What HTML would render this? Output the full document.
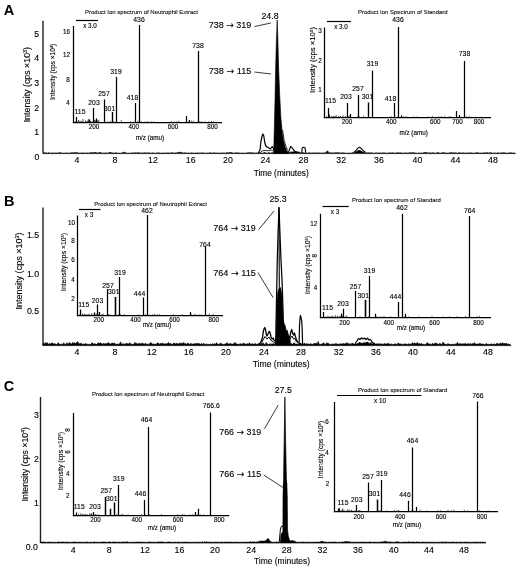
<!DOCTYPE html>
<html><head><meta charset="utf-8"><title>Figure</title>
<style>
html,body{margin:0;padding:0;background:#fff;}
svg{display:block;font-family:"Liberation Sans", Arial, sans-serif;filter:blur(0.35px);}
</style></head><body>
<svg width="520" height="569" viewBox="0 0 520 569">
<rect width="520" height="569" fill="#fff"/>
<text x="8.9" y="15.19" font-size="14.5" text-anchor="middle" fill="#000" font-weight="bold">A</text>
<line x1="43" y1="20.8" x2="43" y2="153.5" stroke="#222" stroke-width="1.4" stroke-linecap="butt"/>
<path d="M43.0,153.17 L44.0,152.76 L45.0,152.87 L46.0,152.85 L47.0,153.11 L48.0,153.11 L49.0,152.54 L50.0,153.14 L51.0,153.18 L52.0,152.94 L53.0,152.81 L54.0,153.19 L55.0,152.99 L56.0,152.86 L57.0,153.07 L58.0,153.05 L59.0,152.73 L60.0,152.67 L61.0,152.63 L62.0,153.12 L63.0,153.14 L64.0,153.09 L65.0,153.18 L66.0,152.73 L67.0,153.17 L68.0,153.12 L69.0,152.94 L70.0,152.90 L71.0,153.06 L72.0,152.49 L73.0,153.02 L74.0,152.43 L75.0,152.70 L76.0,152.81 L77.0,152.43 L78.0,152.92 L79.0,153.09 L80.0,153.09 L81.0,153.04 L82.0,153.02 L83.0,152.83 L84.0,153.12 L85.0,152.99 L86.0,152.99 L87.0,152.85 L88.0,153.18 L89.0,152.92 L90.0,152.83 L91.0,152.55 L92.0,152.82 L93.0,152.87 L94.0,152.47 L95.0,152.53 L96.0,152.36 L97.0,153.10 L98.0,153.02 L99.0,152.62 L100.0,152.51 L101.0,152.82 L102.0,152.94 L103.0,153.15 L104.0,152.97 L105.0,152.98 L106.0,152.80 L107.0,153.17 L108.0,153.08 L109.0,152.56 L110.0,152.36 L111.0,152.67 L112.0,152.87 L113.0,153.03 L114.0,153.09 L115.0,153.04 L116.0,152.62 L117.0,153.13 L118.0,153.12 L119.0,153.12 L120.0,153.13 L121.0,153.14 L122.0,152.89 L123.0,152.48 L124.0,152.53 L125.0,151.94 L126.0,153.16 L127.0,153.15 L128.0,153.07 L129.0,153.13 L130.0,153.15 L131.0,153.08 L132.0,152.86 L133.0,153.04 L134.0,153.07 L135.0,152.52 L136.0,153.01 L137.0,152.86 L138.0,152.39 L139.0,152.93 L140.0,152.99 L141.0,152.79 L142.0,153.10 L143.0,152.91 L144.0,152.83 L145.0,152.75 L146.0,153.02 L147.0,152.81 L148.0,153.05 L149.0,152.69 L150.0,152.97 L151.0,153.18 L152.0,152.90 L153.0,152.78 L154.0,153.14 L155.0,153.15 L156.0,153.18 L157.0,152.80 L158.0,152.97 L159.0,152.72 L160.0,153.14 L161.0,153.12 L162.0,153.11 L163.0,152.93 L164.0,152.92 L165.0,153.06 L166.0,152.91 L167.0,153.05 L168.0,152.65 L169.0,153.08 L170.0,153.18 L171.0,152.80 L172.0,152.40 L173.0,153.19 L174.0,152.80 L175.0,152.91 L176.0,152.93 L177.0,152.78 L178.0,152.59 L179.0,152.34 L180.0,152.25 L181.0,152.56 L182.0,152.49 L183.0,152.97 L184.0,153.02 L185.0,152.65 L186.0,152.95 L187.0,153.11 L188.0,152.97 L189.0,153.11 L190.0,152.96 L191.0,153.06 L192.0,152.85 L193.0,153.15 L194.0,153.05 L195.0,153.06 L196.0,152.92 L197.0,153.01 L198.0,152.87 L199.0,153.07 L200.0,153.03 L201.0,152.94 L202.0,152.77 L203.0,152.91 L204.0,152.95 L205.0,153.17 L206.0,153.02 L207.0,152.98 L208.0,153.16 L209.0,152.97 L210.0,152.57 L211.0,153.09 L212.0,152.94 L213.0,153.02 L214.0,152.73 L215.0,153.09 L216.0,152.90 L217.0,153.00 L218.0,152.99 L219.0,153.12 L220.0,152.93 L221.0,152.99 L222.0,152.90 L223.0,152.89 L224.0,153.03 L225.0,153.02 L226.0,153.10 L227.0,152.36 L228.0,153.18 L229.0,152.45 L230.0,152.49 L231.0,152.41 L232.0,152.86 L233.0,152.98 L234.0,153.09 L235.0,153.18 L236.0,152.53 L237.0,152.98 L238.0,152.84 L239.0,153.12 L240.0,152.89 L241.0,153.18 L242.0,153.07 L243.0,152.96 L244.0,153.05 L245.0,153.16 L246.0,153.10 L247.0,152.76 L248.0,152.89 L249.0,152.54 L250.0,152.86 L251.0,152.83 L252.0,152.93 L253.0,152.62 L254.0,153.15 L255.0,153.06 L256.0,152.94 L257.0,152.98 L258.0,152.84 L259.0,152.49 L260.0,152.77 L261.0,152.96 L262.0,152.99 L263.0,153.19 L264.0,152.50 L265.0,152.60 L266.0,153.11 L267.0,153.06 L268.0,153.01 L269.0,152.57 L270.0,153.06 L271.0,152.91 L272.0,152.65 L273.0,152.64 L274.0,152.90 L275.0,153.18 L276.0,153.16 L277.0,152.72 L278.0,152.70 L279.0,152.93 L280.0,153.11 L281.0,153.14 L282.0,152.76 L283.0,152.83 L284.0,152.97 L285.0,153.12 L286.0,153.05 L287.0,152.83 L288.0,152.83 L289.0,152.67 L290.0,152.51 L291.0,151.75 L292.0,152.16 L293.0,151.77 L294.0,151.82 L295.0,151.88 L296.0,151.75 L297.0,151.83 L298.0,151.86 L299.0,152.15 L300.0,152.43 L301.0,152.65 L302.0,152.60 L303.0,152.68 L304.0,152.76 L305.0,153.05 L306.0,152.82 L307.0,152.99 L308.0,153.08 L309.0,152.86 L310.0,152.86 L311.0,153.13 L312.0,152.86 L313.0,153.05 L314.0,152.74 L315.0,152.89 L316.0,153.06 L317.0,152.65 L318.0,153.19 L319.0,152.73 L320.0,152.94 L321.0,152.95 L322.0,153.14 L323.0,152.67 L324.0,153.08 L325.0,152.86 L326.0,152.83 L327.0,151.00 L328.0,151.32 L329.0,152.68 L330.0,153.06 L331.0,152.70 L332.0,152.83 L333.0,153.17 L334.0,152.81 L335.0,152.74 L336.0,152.75 L337.0,152.82 L338.0,152.58 L339.0,153.06 L340.0,152.70 L341.0,153.15 L342.0,152.75 L343.0,152.83 L344.0,152.92 L345.0,153.01 L346.0,153.19 L347.0,153.18 L348.0,153.10 L349.0,153.07 L350.0,153.11 L351.0,153.03 L352.0,153.02 L353.0,152.46 L354.0,152.89 L355.0,152.23 L356.0,151.81 L357.0,151.39 L358.0,150.53 L359.0,150.31 L360.0,150.61 L361.0,151.09 L362.0,151.61 L363.0,152.23 L364.0,152.30 L365.0,152.95 L366.0,152.96 L367.0,153.17 L368.0,152.38 L369.0,152.91 L370.0,153.08 L371.0,152.60 L372.0,152.94 L373.0,153.19 L374.0,152.98 L375.0,153.20 L376.0,152.72 L377.0,153.19 L378.0,152.85 L379.0,152.96 L380.0,152.94 L381.0,152.99 L382.0,152.91 L383.0,152.84 L384.0,152.99 L385.0,152.84 L386.0,153.14 L387.0,153.20 L388.0,152.99 L389.0,152.99 L390.0,152.65 L391.0,153.01 L392.0,152.83 L393.0,152.70 L394.0,153.15 L395.0,153.04 L396.0,153.08 L397.0,152.72 L398.0,152.87 L399.0,152.83 L400.0,152.99 L401.0,152.68 L402.0,153.00 L403.0,153.09 L404.0,152.95 L405.0,153.05 L406.0,152.76 L407.0,153.10 L408.0,152.97 L409.0,152.89 L410.0,152.39 L411.0,153.04 L412.0,152.68 L413.0,152.61 L414.0,152.84 L415.0,152.96 L416.0,153.06 L417.0,153.18 L418.0,153.13 L419.0,152.86 L420.0,153.16 L421.0,153.04 L422.0,152.91 L423.0,152.94 L424.0,152.66 L425.0,152.53 L426.0,152.35 L427.0,152.73 L428.0,153.14 L429.0,152.55 L430.0,153.07 L431.0,153.01 L432.0,152.80 L433.0,152.64 L434.0,153.13 L435.0,152.98 L436.0,152.92 L437.0,153.11 L438.0,152.32 L439.0,152.95 L440.0,153.15 L441.0,153.15 L442.0,152.65 L443.0,152.80 L444.0,152.41 L445.0,153.04 L446.0,152.99 L447.0,153.10 L448.0,152.95 L449.0,152.99 L450.0,152.70 L451.0,152.73 L452.0,152.62 L453.0,153.18 L454.0,152.50 L455.0,153.06 L456.0,152.86 L457.0,153.18 L458.0,153.05 L459.0,152.65 L460.0,152.84 L461.0,153.11 L462.0,152.88 L463.0,152.74 L464.0,152.95 L465.0,152.88 L466.0,153.19 L467.0,152.83 L468.0,153.04 L469.0,153.08 L470.0,152.75 L471.0,152.87 L472.0,153.10 L473.0,153.03 L474.0,153.15 L475.0,153.12 L476.0,152.69 L477.0,152.64 L478.0,152.73 L479.0,153.07 L480.0,153.11 L481.0,152.88 L482.0,153.08 L483.0,153.12 L484.0,152.62 L485.0,153.05 L486.0,152.70 L487.0,152.84 L488.0,152.68 L489.0,153.14 L490.0,152.62 L491.0,152.69 L492.0,153.07 L493.0,153.03 L494.0,153.16 L495.0,152.87 L496.0,153.19 L497.0,153.09 L498.0,152.68 L499.0,153.00 L500.0,153.11 L501.0,152.90 L502.0,152.81 L503.0,152.88 L504.0,152.54 L505.0,153.10 L506.0,153.05 L507.0,153.02 L508.0,153.12 L509.0,152.93 L510.0,152.71 L511.0,152.84 L512.0,152.94 L513.0,152.97 L514.0,152.89 L515.0,153.12 L515.5,153.6 L43,153.6 Z" fill="#000" stroke="#000" stroke-width="0.6" stroke-linejoin="round"/>
<path d="M288.5,152.5 L289.6,149 L290.8,146.3 L292.2,147.8 L293.6,150 L295.2,151.6 L297,152.5" fill="none" stroke="#000" stroke-width="1.1" stroke-linejoin="round"/>
<path d="M301.8,152.5 L302.2,148 L303.6,147.3 L305.2,148 L305.6,152.5" fill="none" stroke="#000" stroke-width="1.1" stroke-linejoin="round"/>
<path d="M353.5,152.6 L356,150.5 L358,148 L359.5,147.3 L361,148.2 L363,150.5 L366,152.6" fill="none" stroke="#000" stroke-width="1.1" stroke-linejoin="round"/>
<text x="36.7" y="36.65" font-size="8.8" text-anchor="middle" fill="#000" stroke="#000" stroke-width="0.12">5</text>
<text x="36.7" y="61.15" font-size="8.8" text-anchor="middle" fill="#000" stroke="#000" stroke-width="0.12">4</text>
<text x="36.7" y="86.15" font-size="8.8" text-anchor="middle" fill="#000" stroke="#000" stroke-width="0.12">3</text>
<text x="36.7" y="110.65" font-size="8.8" text-anchor="middle" fill="#000" stroke="#000" stroke-width="0.12">2</text>
<text x="36.7" y="135.15" font-size="8.8" text-anchor="middle" fill="#000" stroke="#000" stroke-width="0.12">1</text>
<text x="37" y="160.15" font-size="8.8" text-anchor="middle" fill="#000" stroke="#000" stroke-width="0.12">0</text>
<text x="77" y="163.15" font-size="8.8" text-anchor="middle" fill="#000" stroke="#000" stroke-width="0.12">4</text>
<text x="115" y="163.15" font-size="8.8" text-anchor="middle" fill="#000" stroke="#000" stroke-width="0.12">8</text>
<text x="153" y="163.15" font-size="8.8" text-anchor="middle" fill="#000" stroke="#000" stroke-width="0.12">12</text>
<text x="190.75" y="163.15" font-size="8.8" text-anchor="middle" fill="#000" stroke="#000" stroke-width="0.12">16</text>
<text x="228" y="163.15" font-size="8.8" text-anchor="middle" fill="#000" stroke="#000" stroke-width="0.12">20</text>
<text x="265.5" y="163.15" font-size="8.8" text-anchor="middle" fill="#000" stroke="#000" stroke-width="0.12">24</text>
<text x="303.5" y="163.15" font-size="8.8" text-anchor="middle" fill="#000" stroke="#000" stroke-width="0.12">28</text>
<text x="341.25" y="163.15" font-size="8.8" text-anchor="middle" fill="#000" stroke="#000" stroke-width="0.12">32</text>
<text x="379" y="163.15" font-size="8.8" text-anchor="middle" fill="#000" stroke="#000" stroke-width="0.12">36</text>
<text x="417.5" y="163.15" font-size="8.8" text-anchor="middle" fill="#000" stroke="#000" stroke-width="0.12">40</text>
<text x="455.4" y="163.15" font-size="8.8" text-anchor="middle" fill="#000" stroke="#000" stroke-width="0.12">44</text>
<text x="493" y="163.15" font-size="8.8" text-anchor="middle" fill="#000" stroke="#000" stroke-width="0.12">48</text>
<text x="281.2" y="175.65" font-size="8.8" text-anchor="middle" fill="#000" textLength="55" lengthAdjust="spacingAndGlyphs" stroke="#000" stroke-width="0.12">Time (minutes)</text>
<text transform="translate(27.2,84.7) rotate(-90)" x="0" y="3.15" font-size="8.8" text-anchor="middle" fill="#000" textLength="75.3" lengthAdjust="spacingAndGlyphs" stroke="#000" stroke-width="0.12">Intensity (cps ×10<tspan font-size="60%" dy="-3">3</tspan><tspan dy="3">)</tspan></text>
<text x="270" y="18.65" font-size="8.8" text-anchor="middle" fill="#000" stroke="#000" stroke-width="0.12">24.8</text>
<text x="230" y="28.15" font-size="8.8" text-anchor="middle" fill="#000" textLength="42.5" lengthAdjust="spacingAndGlyphs" stroke="#000" stroke-width="0.12">738 <tspan font-family="DejaVu Sans" font-size="9">→</tspan> 319</text>
<text x="230" y="73.65" font-size="8.8" text-anchor="middle" fill="#000" textLength="42.5" lengthAdjust="spacingAndGlyphs" stroke="#000" stroke-width="0.12">738 <tspan font-family="DejaVu Sans" font-size="9">→</tspan> 115</text>
<line x1="254.5" y1="26.5" x2="271" y2="23" stroke="#222" stroke-width="0.9" stroke-linecap="butt"/>
<line x1="254.5" y1="72" x2="271" y2="74" stroke="#222" stroke-width="0.9" stroke-linecap="butt"/>
<path d="M258.5,152.8 L260,150 L261,141 L262.2,135.5 L263,134 L263.8,136 L264.6,141.5 L265.6,145.5 L267,147 L268.5,147.8 L270,148.8 L271.2,148 L272.2,146.5 L273.2,148 L274,150" fill="none" stroke="#000" stroke-width="1.2" stroke-linejoin="round"/>
<path d="M260.5,152.5 L262,151 L265,150.4 L268,150.8 L271,150 L273.5,151" fill="none" stroke="#000" stroke-width="0.8" stroke-linejoin="round"/>
<path d="M273.7,153.5 L274,140 L274.4,125 L275,100 L275.6,70 L276.4,40 L277.2,20 L277.9,40 L278.7,70 L279.7,95 L280.9,118 L282.3,133 L283.6,141 L285,146.5 L286.5,150 L288.5,152.5 L288.5,153.5 Z" fill="#000" stroke="#000" stroke-width="0.6" stroke-linejoin="round"/>
<path d="M282.6,130 L284.2,140.5 L285.8,146 L287.5,150" fill="none" stroke="#000" stroke-width="0.8" stroke-linejoin="round"/>
<line x1="73.5" y1="26" x2="73.5" y2="123.125" stroke="#000" stroke-width="1.25" stroke-linecap="butt"/>
<line x1="72.875" y1="122.5" x2="222" y2="122.5" stroke="#000" stroke-width="1.25" stroke-linecap="butt"/>
<line x1="75.5" y1="122.5" x2="75.5" y2="121.09" stroke="#222" stroke-width="0.7" stroke-linecap="butt"/>
<line x1="82.0" y1="122.5" x2="82.0" y2="121.04" stroke="#222" stroke-width="0.7" stroke-linecap="butt"/>
<line x1="86.7" y1="122.5" x2="86.7" y2="121.09" stroke="#222" stroke-width="0.7" stroke-linecap="butt"/>
<line x1="88.5" y1="122.5" x2="88.5" y2="121.05" stroke="#222" stroke-width="0.7" stroke-linecap="butt"/>
<line x1="90.7" y1="122.5" x2="90.7" y2="120.93" stroke="#222" stroke-width="0.7" stroke-linecap="butt"/>
<line x1="93.9" y1="122.5" x2="93.9" y2="121.21" stroke="#222" stroke-width="0.7" stroke-linecap="butt"/>
<line x1="95.5" y1="122.5" x2="95.5" y2="120.41" stroke="#222" stroke-width="0.7" stroke-linecap="butt"/>
<line x1="107.8" y1="122.5" x2="107.8" y2="121.35" stroke="#222" stroke-width="0.7" stroke-linecap="butt"/>
<line x1="110.4" y1="122.5" x2="110.4" y2="120.81" stroke="#222" stroke-width="0.7" stroke-linecap="butt"/>
<line x1="113.2" y1="122.5" x2="113.2" y2="121.35" stroke="#222" stroke-width="0.7" stroke-linecap="butt"/>
<line x1="116.3" y1="122.5" x2="116.3" y2="120.96" stroke="#222" stroke-width="0.7" stroke-linecap="butt"/>
<line x1="121.2" y1="122.5" x2="121.2" y2="120.05" stroke="#222" stroke-width="0.7" stroke-linecap="butt"/>
<line x1="130.3" y1="122.5" x2="130.3" y2="121.37" stroke="#222" stroke-width="0.7" stroke-linecap="butt"/>
<line x1="135.5" y1="122.5" x2="135.5" y2="121.2" stroke="#222" stroke-width="0.7" stroke-linecap="butt"/>
<line x1="138.0" y1="122.5" x2="138.0" y2="120.76" stroke="#222" stroke-width="0.7" stroke-linecap="butt"/>
<line x1="141.5" y1="122.5" x2="141.5" y2="121.22" stroke="#222" stroke-width="0.7" stroke-linecap="butt"/>
<line x1="145.5" y1="122.5" x2="145.5" y2="121.4" stroke="#222" stroke-width="0.7" stroke-linecap="butt"/>
<line x1="148.0" y1="122.5" x2="148.0" y2="121.07" stroke="#222" stroke-width="0.7" stroke-linecap="butt"/>
<line x1="151.4" y1="122.5" x2="151.4" y2="121.39" stroke="#222" stroke-width="0.7" stroke-linecap="butt"/>
<line x1="153.6" y1="122.5" x2="153.6" y2="121.32" stroke="#222" stroke-width="0.7" stroke-linecap="butt"/>
<line x1="171.7" y1="122.5" x2="171.7" y2="120.94" stroke="#222" stroke-width="0.7" stroke-linecap="butt"/>
<line x1="174.8" y1="122.5" x2="174.8" y2="121.31" stroke="#222" stroke-width="0.7" stroke-linecap="butt"/>
<line x1="176.8" y1="122.5" x2="176.8" y2="121.35" stroke="#222" stroke-width="0.7" stroke-linecap="butt"/>
<line x1="179.0" y1="122.5" x2="179.0" y2="120.81" stroke="#222" stroke-width="0.7" stroke-linecap="butt"/>
<line x1="188.6" y1="122.5" x2="188.6" y2="121.21" stroke="#222" stroke-width="0.7" stroke-linecap="butt"/>
<line x1="191.7" y1="122.5" x2="191.7" y2="120.48" stroke="#222" stroke-width="0.7" stroke-linecap="butt"/>
<line x1="193.7" y1="122.5" x2="193.7" y2="120.81" stroke="#222" stroke-width="0.7" stroke-linecap="butt"/>
<line x1="198.1" y1="122.5" x2="198.1" y2="121.26" stroke="#222" stroke-width="0.7" stroke-linecap="butt"/>
<line x1="199.8" y1="122.5" x2="199.8" y2="121.14" stroke="#222" stroke-width="0.7" stroke-linecap="butt"/>
<line x1="201.9" y1="122.5" x2="201.9" y2="121.35" stroke="#222" stroke-width="0.7" stroke-linecap="butt"/>
<line x1="204.9" y1="122.5" x2="204.9" y2="121.32" stroke="#222" stroke-width="0.7" stroke-linecap="butt"/>
<line x1="208.8" y1="122.5" x2="208.8" y2="121.3" stroke="#222" stroke-width="0.7" stroke-linecap="butt"/>
<line x1="211.5" y1="122.5" x2="211.5" y2="120.8" stroke="#222" stroke-width="0.7" stroke-linecap="butt"/>
<line x1="213.5" y1="122.5" x2="213.5" y2="121.25" stroke="#222" stroke-width="0.7" stroke-linecap="butt"/>
<line x1="78.5" y1="122.5" x2="78.5" y2="120.05" stroke="#111" stroke-width="0.8" stroke-linecap="butt"/>
<line x1="80.0" y1="122.5" x2="80.0" y2="120.6" stroke="#111" stroke-width="0.8" stroke-linecap="butt"/>
<line x1="81.5" y1="122.5" x2="81.5" y2="121.44" stroke="#111" stroke-width="0.8" stroke-linecap="butt"/>
<line x1="83.0" y1="122.5" x2="83.0" y2="119.23" stroke="#111" stroke-width="0.8" stroke-linecap="butt"/>
<line x1="85.5" y1="122.5" x2="85.5" y2="120.6" stroke="#111" stroke-width="0.8" stroke-linecap="butt"/>
<line x1="87.3" y1="122.5" x2="87.3" y2="120.68" stroke="#111" stroke-width="0.8" stroke-linecap="butt"/>
<line x1="88.7" y1="122.5" x2="88.7" y2="119.11" stroke="#111" stroke-width="0.8" stroke-linecap="butt"/>
<line x1="90.2" y1="122.5" x2="90.2" y2="120.98" stroke="#111" stroke-width="0.8" stroke-linecap="butt"/>
<line x1="92.4" y1="122.5" x2="92.4" y2="121.52" stroke="#111" stroke-width="0.8" stroke-linecap="butt"/>
<line x1="94.4" y1="122.5" x2="94.4" y2="119.74" stroke="#111" stroke-width="0.8" stroke-linecap="butt"/>
<line x1="96.0" y1="122.5" x2="96.0" y2="120.88" stroke="#111" stroke-width="0.8" stroke-linecap="butt"/>
<line x1="97.3" y1="122.5" x2="97.3" y2="120.18" stroke="#111" stroke-width="0.8" stroke-linecap="butt"/>
<line x1="98.8" y1="122.5" x2="98.8" y2="119.78" stroke="#111" stroke-width="0.8" stroke-linecap="butt"/>
<line x1="76.5" y1="122.5" x2="76.5" y2="117" stroke="#000" stroke-width="1.25" stroke-linecap="butt"/>
<line x1="93.5" y1="122.5" x2="93.5" y2="108" stroke="#000" stroke-width="1.25" stroke-linecap="butt"/>
<line x1="104.5" y1="122.5" x2="104.5" y2="99.5" stroke="#000" stroke-width="1.25" stroke-linecap="butt"/>
<line x1="112.5" y1="122.5" x2="112.5" y2="112" stroke="#000" stroke-width="1.4" stroke-linecap="butt"/>
<line x1="116.5" y1="122.5" x2="116.5" y2="77" stroke="#000" stroke-width="1.25" stroke-linecap="butt"/>
<line x1="135.5" y1="122.5" x2="135.5" y2="103" stroke="#000" stroke-width="1.25" stroke-linecap="butt"/>
<line x1="139.5" y1="122.5" x2="139.5" y2="25" stroke="#000" stroke-width="1.25" stroke-linecap="butt"/>
<line x1="186.5" y1="122.5" x2="186.5" y2="116" stroke="#000" stroke-width="1.25" stroke-linecap="butt"/>
<line x1="198.5" y1="122.5" x2="198.5" y2="51" stroke="#000" stroke-width="1.25" stroke-linecap="butt"/>
<line x1="96.5" y1="122.5" x2="96.5" y2="118.5" stroke="#000" stroke-width="1.25" stroke-linecap="butt"/>
<line x1="89.5" y1="122.5" x2="89.5" y2="119.5" stroke="#000" stroke-width="1.25" stroke-linecap="butt"/>
<line x1="189.5" y1="122.5" x2="189.5" y2="120" stroke="#000" stroke-width="1.25" stroke-linecap="butt"/>
<text x="80" y="114.43" font-size="6.8" text-anchor="middle" fill="#000" stroke="#000" stroke-width="0.12">115</text>
<text x="94" y="105.43" font-size="6.8" text-anchor="middle" fill="#000" stroke="#000" stroke-width="0.12">203</text>
<text x="104" y="96.43" font-size="6.8" text-anchor="middle" fill="#000" stroke="#000" stroke-width="0.12">257</text>
<text x="109.5" y="111.43" font-size="6.8" text-anchor="middle" fill="#000" stroke="#000" stroke-width="0.12">301</text>
<text x="116" y="73.93" font-size="6.8" text-anchor="middle" fill="#000" stroke="#000" stroke-width="0.12">319</text>
<text x="132.5" y="99.93" font-size="6.8" text-anchor="middle" fill="#000" stroke="#000" stroke-width="0.12">418</text>
<text x="139" y="22.43" font-size="6.8" text-anchor="middle" fill="#000" stroke="#000" stroke-width="0.12">436</text>
<text x="198" y="48.43" font-size="6.8" text-anchor="middle" fill="#000" stroke="#000" stroke-width="0.12">738</text>
<text x="66.5" y="34.26" font-size="6.3" text-anchor="middle" fill="#000" stroke="#000" stroke-width="0.12">16</text>
<text x="66.5" y="57.26" font-size="6.3" text-anchor="middle" fill="#000" stroke="#000" stroke-width="0.12">12</text>
<text x="68" y="81.76" font-size="6.3" text-anchor="middle" fill="#000" stroke="#000" stroke-width="0.12">8</text>
<text x="68" y="104.76" font-size="6.3" text-anchor="middle" fill="#000" stroke="#000" stroke-width="0.12">4</text>
<text transform="translate(52.9,71.7) rotate(-90)" x="0" y="2.26" font-size="6.3" text-anchor="middle" fill="#000" textLength="56" lengthAdjust="spacingAndGlyphs" stroke="#000" stroke-width="0.12">Intensity (cps ×10<tspan font-size="60%" dy="-2">4</tspan><tspan dy="2">)</tspan></text>
<text x="141.5" y="14.22" font-size="6.2" text-anchor="middle" fill="#222" textLength="113" lengthAdjust="spacingAndGlyphs" stroke="#000" stroke-width="0.12">Product Ion spectrum of Neutrophil Extract</text>
<text x="94" y="129.26" font-size="6.3" text-anchor="middle" fill="#000" stroke="#000" stroke-width="0.12">200</text>
<text x="133.75" y="129.26" font-size="6.3" text-anchor="middle" fill="#000" stroke="#000" stroke-width="0.12">400</text>
<text x="173" y="129.26" font-size="6.3" text-anchor="middle" fill="#000" stroke="#000" stroke-width="0.12">600</text>
<text x="212.5" y="129.26" font-size="6.3" text-anchor="middle" fill="#000" stroke="#000" stroke-width="0.12">800</text>
<text x="150" y="140.26" font-size="6.3" text-anchor="middle" fill="#000" stroke="#000" stroke-width="0.12">m/z (amu)</text>
<line x1="76" y1="20.5" x2="98" y2="20.5" stroke="#000" stroke-width="1.2" stroke-linecap="butt"/>
<text x="90" y="27.56" font-size="6.3" text-anchor="middle" fill="#000" stroke="#000" stroke-width="0.12">x 3.0</text>
<line x1="324.5" y1="27.5" x2="324.5" y2="118.125" stroke="#000" stroke-width="1.25" stroke-linecap="butt"/>
<line x1="323.875" y1="117.5" x2="491" y2="117.5" stroke="#000" stroke-width="1.25" stroke-linecap="butt"/>
<line x1="326.5" y1="117.5" x2="326.5" y2="116.19" stroke="#222" stroke-width="0.7" stroke-linecap="butt"/>
<line x1="331.5" y1="117.5" x2="331.5" y2="116.36" stroke="#222" stroke-width="0.7" stroke-linecap="butt"/>
<line x1="340.1" y1="117.5" x2="340.1" y2="116.26" stroke="#222" stroke-width="0.7" stroke-linecap="butt"/>
<line x1="349.0" y1="117.5" x2="349.0" y2="116.1" stroke="#222" stroke-width="0.7" stroke-linecap="butt"/>
<line x1="357.5" y1="117.5" x2="357.5" y2="116.4" stroke="#222" stroke-width="0.7" stroke-linecap="butt"/>
<line x1="359.0" y1="117.5" x2="359.0" y2="115.98" stroke="#222" stroke-width="0.7" stroke-linecap="butt"/>
<line x1="363.5" y1="117.5" x2="363.5" y2="115.86" stroke="#222" stroke-width="0.7" stroke-linecap="butt"/>
<line x1="391.2" y1="117.5" x2="391.2" y2="116.19" stroke="#222" stroke-width="0.7" stroke-linecap="butt"/>
<line x1="397.8" y1="117.5" x2="397.8" y2="116.21" stroke="#222" stroke-width="0.7" stroke-linecap="butt"/>
<line x1="403.4" y1="117.5" x2="403.4" y2="116.38" stroke="#222" stroke-width="0.7" stroke-linecap="butt"/>
<line x1="406.1" y1="117.5" x2="406.1" y2="116.06" stroke="#222" stroke-width="0.7" stroke-linecap="butt"/>
<line x1="414.0" y1="117.5" x2="414.0" y2="116.34" stroke="#222" stroke-width="0.7" stroke-linecap="butt"/>
<line x1="417.4" y1="117.5" x2="417.4" y2="116.35" stroke="#222" stroke-width="0.7" stroke-linecap="butt"/>
<line x1="428.1" y1="117.5" x2="428.1" y2="116.33" stroke="#222" stroke-width="0.7" stroke-linecap="butt"/>
<line x1="432.3" y1="117.5" x2="432.3" y2="115.83" stroke="#222" stroke-width="0.7" stroke-linecap="butt"/>
<line x1="438.9" y1="117.5" x2="438.9" y2="116.31" stroke="#222" stroke-width="0.7" stroke-linecap="butt"/>
<line x1="441.3" y1="117.5" x2="441.3" y2="116.01" stroke="#222" stroke-width="0.7" stroke-linecap="butt"/>
<line x1="444.8" y1="117.5" x2="444.8" y2="115.93" stroke="#222" stroke-width="0.7" stroke-linecap="butt"/>
<line x1="449.0" y1="117.5" x2="449.0" y2="116.38" stroke="#222" stroke-width="0.7" stroke-linecap="butt"/>
<line x1="450.6" y1="117.5" x2="450.6" y2="116.23" stroke="#222" stroke-width="0.7" stroke-linecap="butt"/>
<line x1="466.4" y1="117.5" x2="466.4" y2="116.26" stroke="#222" stroke-width="0.7" stroke-linecap="butt"/>
<line x1="469.2" y1="117.5" x2="469.2" y2="116.21" stroke="#222" stroke-width="0.7" stroke-linecap="butt"/>
<line x1="329.5" y1="117.5" x2="329.5" y2="114.24" stroke="#111" stroke-width="0.8" stroke-linecap="butt"/>
<line x1="331.7" y1="117.5" x2="331.7" y2="116.41" stroke="#111" stroke-width="0.8" stroke-linecap="butt"/>
<line x1="333.3" y1="117.5" x2="333.3" y2="115.93" stroke="#111" stroke-width="0.8" stroke-linecap="butt"/>
<line x1="334.8" y1="117.5" x2="334.8" y2="115.97" stroke="#111" stroke-width="0.8" stroke-linecap="butt"/>
<line x1="336.2" y1="117.5" x2="336.2" y2="115.19" stroke="#111" stroke-width="0.8" stroke-linecap="butt"/>
<line x1="338.7" y1="117.5" x2="338.7" y2="115.95" stroke="#111" stroke-width="0.8" stroke-linecap="butt"/>
<line x1="340.5" y1="117.5" x2="340.5" y2="116.24" stroke="#111" stroke-width="0.8" stroke-linecap="butt"/>
<line x1="343.0" y1="117.5" x2="343.0" y2="115.3" stroke="#111" stroke-width="0.8" stroke-linecap="butt"/>
<line x1="345.5" y1="117.5" x2="345.5" y2="116.09" stroke="#111" stroke-width="0.8" stroke-linecap="butt"/>
<line x1="348.1" y1="117.5" x2="348.1" y2="116.53" stroke="#111" stroke-width="0.8" stroke-linecap="butt"/>
<line x1="350.1" y1="117.5" x2="350.1" y2="115.56" stroke="#111" stroke-width="0.8" stroke-linecap="butt"/>
<line x1="328.5" y1="117.5" x2="328.5" y2="108" stroke="#000" stroke-width="1.25" stroke-linecap="butt"/>
<line x1="347.5" y1="117.5" x2="347.5" y2="103" stroke="#000" stroke-width="1.25" stroke-linecap="butt"/>
<line x1="358.5" y1="117.5" x2="358.5" y2="95" stroke="#000" stroke-width="1.25" stroke-linecap="butt"/>
<line x1="368.5" y1="117.5" x2="368.5" y2="102.5" stroke="#000" stroke-width="1.4" stroke-linecap="butt"/>
<line x1="372.5" y1="117.5" x2="372.5" y2="70.5" stroke="#000" stroke-width="1.25" stroke-linecap="butt"/>
<line x1="394.5" y1="117.5" x2="394.5" y2="103" stroke="#000" stroke-width="1.25" stroke-linecap="butt"/>
<line x1="398.5" y1="117.5" x2="398.5" y2="27" stroke="#000" stroke-width="1.25" stroke-linecap="butt"/>
<line x1="456.5" y1="117.5" x2="456.5" y2="111" stroke="#000" stroke-width="1.25" stroke-linecap="butt"/>
<line x1="464.5" y1="117.5" x2="464.5" y2="61" stroke="#000" stroke-width="1.25" stroke-linecap="butt"/>
<line x1="350.5" y1="117.5" x2="350.5" y2="114" stroke="#000" stroke-width="1.25" stroke-linecap="butt"/>
<line x1="401.5" y1="117.5" x2="401.5" y2="115.5" stroke="#000" stroke-width="1.25" stroke-linecap="butt"/>
<line x1="459.5" y1="117.5" x2="459.5" y2="115" stroke="#000" stroke-width="1.25" stroke-linecap="butt"/>
<text x="330.5" y="103.43" font-size="6.8" text-anchor="middle" fill="#000" stroke="#000" stroke-width="0.12">115</text>
<text x="346" y="99.43" font-size="6.8" text-anchor="middle" fill="#000" stroke="#000" stroke-width="0.12">203</text>
<text x="358" y="90.93" font-size="6.8" text-anchor="middle" fill="#000" stroke="#000" stroke-width="0.12">257</text>
<text x="367.5" y="99.18" font-size="6.8" text-anchor="middle" fill="#000" stroke="#000" stroke-width="0.12">301</text>
<text x="372.5" y="66.43" font-size="6.8" text-anchor="middle" fill="#000" stroke="#000" stroke-width="0.12">319</text>
<text x="390.5" y="101.18" font-size="6.8" text-anchor="middle" fill="#000" stroke="#000" stroke-width="0.12">418</text>
<text x="398" y="22.43" font-size="6.8" text-anchor="middle" fill="#000" stroke="#000" stroke-width="0.12">436</text>
<text x="464.5" y="56.43" font-size="6.8" text-anchor="middle" fill="#000" stroke="#000" stroke-width="0.12">738</text>
<text x="320" y="32.76" font-size="6.3" text-anchor="middle" fill="#000" stroke="#000" stroke-width="0.12">3</text>
<text x="320" y="63.01" font-size="6.3" text-anchor="middle" fill="#000" stroke="#000" stroke-width="0.12">2</text>
<text x="320" y="91.76" font-size="6.3" text-anchor="middle" fill="#000" stroke="#000" stroke-width="0.12">1</text>
<text transform="translate(313,60) rotate(-90)" x="0" y="2.26" font-size="6.3" text-anchor="middle" fill="#000" textLength="66" lengthAdjust="spacingAndGlyphs" stroke="#000" stroke-width="0.12">Intensity (cps ×10<tspan font-size="60%" dy="-2">5</tspan><tspan dy="2">)</tspan></text>
<text x="402.75" y="13.72" font-size="6.2" text-anchor="middle" fill="#222" textLength="89.5" lengthAdjust="spacingAndGlyphs" stroke="#000" stroke-width="0.12">Product Ion Spectrum of Standard</text>
<text x="347" y="124.26" font-size="6.3" text-anchor="middle" fill="#000" stroke="#000" stroke-width="0.12">200</text>
<text x="391.3" y="124.26" font-size="6.3" text-anchor="middle" fill="#000" stroke="#000" stroke-width="0.12">400</text>
<text x="435.2" y="124.26" font-size="6.3" text-anchor="middle" fill="#000" stroke="#000" stroke-width="0.12">600</text>
<text x="457.5" y="124.26" font-size="6.3" text-anchor="middle" fill="#000" stroke="#000" stroke-width="0.12">700</text>
<text x="479" y="124.26" font-size="6.3" text-anchor="middle" fill="#000" stroke="#000" stroke-width="0.12">800</text>
<text x="413.6" y="135.26" font-size="6.3" text-anchor="middle" fill="#000" stroke="#000" stroke-width="0.12">m/z (amu)</text>
<line x1="327" y1="21.5" x2="351" y2="21.5" stroke="#000" stroke-width="1.2" stroke-linecap="butt"/>
<text x="341" y="28.56" font-size="6.3" text-anchor="middle" fill="#000" stroke="#000" stroke-width="0.12">x 3.0</text>
<text x="9.2" y="205.69" font-size="14.5" text-anchor="middle" fill="#000" font-weight="bold">B</text>
<line x1="43" y1="207.5" x2="43" y2="345.5" stroke="#222" stroke-width="1.4" stroke-linecap="butt"/>
<path d="M43.0,343.54 L43.8,343.57 L44.6,344.00 L45.4,342.54 L46.2,344.47 L47.0,342.57 L47.8,343.61 L48.6,344.42 L49.4,343.38 L50.2,344.09 L51.0,343.69 L51.8,342.90 L52.6,342.89 L53.4,344.26 L54.2,343.46 L55.0,344.28 L55.8,343.97 L56.6,344.55 L57.4,344.23 L58.2,342.63 L59.0,344.55 L59.8,344.07 L60.6,344.46 L61.4,344.13 L62.2,344.25 L63.0,344.28 L63.8,342.78 L64.6,344.58 L65.4,344.44 L66.2,343.99 L67.0,342.78 L67.8,344.40 L68.6,344.04 L69.4,342.37 L70.2,343.29 L71.0,344.27 L71.8,344.00 L72.6,342.54 L73.4,343.74 L74.2,342.40 L75.0,343.85 L75.8,343.44 L76.6,342.51 L77.4,341.70 L78.2,342.39 L79.0,343.42 L79.8,343.97 L80.6,343.40 L81.4,343.24 L82.2,344.57 L83.0,344.19 L83.8,343.94 L84.6,344.17 L85.4,343.66 L86.2,344.19 L87.0,343.66 L87.8,344.51 L88.6,344.30 L89.4,344.41 L90.2,344.57 L91.0,344.60 L91.8,342.86 L92.6,343.03 L93.4,344.42 L94.2,343.81 L95.0,343.72 L95.8,344.32 L96.6,344.58 L97.4,343.66 L98.2,342.57 L99.0,344.10 L99.8,343.17 L100.6,342.66 L101.4,343.68 L102.2,344.13 L103.0,343.90 L103.8,343.06 L104.6,344.36 L105.4,343.44 L106.2,343.66 L107.0,344.08 L107.8,342.89 L108.6,342.48 L109.4,344.10 L110.2,343.91 L111.0,344.15 L111.8,343.06 L112.6,343.31 L113.4,343.51 L114.2,342.87 L115.0,343.85 L115.8,344.38 L116.6,344.37 L117.4,344.09 L118.2,344.15 L119.0,344.36 L119.8,343.46 L120.6,341.78 L121.4,344.45 L122.2,344.36 L123.0,343.49 L123.8,344.51 L124.6,344.05 L125.4,344.23 L126.2,343.20 L127.0,343.66 L127.8,343.69 L128.6,344.34 L129.4,342.72 L130.2,343.91 L131.0,343.57 L131.8,344.39 L132.6,344.35 L133.4,344.20 L134.2,344.35 L135.0,342.41 L135.8,343.52 L136.6,343.44 L137.4,343.85 L138.2,344.00 L139.0,343.57 L139.8,343.20 L140.6,344.33 L141.4,343.65 L142.2,342.84 L143.0,344.59 L143.8,343.62 L144.6,344.45 L145.4,343.15 L146.2,344.49 L147.0,343.86 L147.8,344.50 L148.6,344.18 L149.4,344.31 L150.2,342.68 L151.0,342.72 L151.8,343.38 L152.6,344.28 L153.4,343.78 L154.2,344.60 L155.0,343.99 L155.8,344.22 L156.6,344.24 L157.4,342.83 L158.2,343.58 L159.0,343.39 L159.8,344.38 L160.6,343.23 L161.4,343.82 L162.2,343.30 L163.0,343.68 L163.8,343.54 L164.6,344.40 L165.4,343.58 L166.2,344.43 L167.0,343.23 L167.8,344.01 L168.6,342.51 L169.4,343.90 L170.2,343.64 L171.0,343.47 L171.8,344.52 L172.6,344.59 L173.4,343.26 L174.2,342.99 L175.0,344.22 L175.8,343.63 L176.6,343.31 L177.4,343.85 L178.2,343.54 L179.0,344.47 L179.8,342.92 L180.6,343.58 L181.4,343.20 L182.2,343.66 L183.0,343.60 L183.8,342.37 L184.6,344.26 L185.4,343.50 L186.2,344.47 L187.0,343.74 L187.8,343.12 L188.6,343.65 L189.4,344.21 L190.2,344.08 L191.0,343.26 L191.8,344.53 L192.6,344.05 L193.4,344.37 L194.2,343.43 L195.0,344.12 L195.8,343.79 L196.6,343.49 L197.4,343.51 L198.2,343.66 L199.0,343.51 L199.8,344.08 L200.6,344.51 L201.4,343.38 L202.2,344.13 L203.0,344.34 L203.8,343.26 L204.6,344.42 L205.4,344.41 L206.2,343.97 L207.0,344.49 L207.8,344.15 L208.6,344.44 L209.4,344.37 L210.2,344.08 L211.0,344.52 L211.8,344.37 L212.6,343.74 L213.4,344.41 L214.2,343.68 L215.0,343.82 L215.8,344.45 L216.6,342.66 L217.4,343.68 L218.2,344.60 L219.0,344.44 L219.8,343.69 L220.6,343.33 L221.4,343.48 L222.2,344.43 L223.0,344.43 L223.8,344.30 L224.6,344.34 L225.4,343.81 L226.2,344.37 L227.0,342.62 L227.8,343.50 L228.6,344.21 L229.4,343.75 L230.2,344.10 L231.0,343.41 L231.8,344.26 L232.6,344.24 L233.4,343.64 L234.2,343.94 L235.0,342.32 L235.8,343.97 L236.6,343.95 L237.4,344.07 L238.2,344.57 L239.0,344.58 L239.8,343.69 L240.6,343.87 L241.4,344.23 L242.2,344.27 L243.0,343.30 L243.8,343.22 L244.6,343.92 L245.4,343.93 L246.2,344.49 L247.0,343.86 L247.8,343.73 L248.6,344.45 L249.4,342.67 L250.2,344.12 L251.0,344.02 L251.8,344.20 L252.6,343.55 L253.4,344.47 L254.2,343.92 L255.0,344.20 L255.8,343.56 L256.6,344.50 L257.4,344.37 L258.2,343.60 L259.0,343.70 L259.8,343.73 L260.6,343.90 L261.4,344.34 L262.2,344.27 L263.0,342.95 L263.8,343.49 L264.6,344.51 L265.4,344.29 L266.2,342.52 L267.0,344.47 L267.8,343.94 L268.6,344.54 L269.4,344.08 L270.2,343.85 L271.0,344.55 L271.8,343.81 L272.6,343.96 L273.4,343.85 L274.2,343.63 L275.0,344.58 L275.8,344.15 L276.6,344.55 L277.4,343.84 L278.2,343.80 L279.0,344.43 L279.8,344.28 L280.6,343.54 L281.4,343.77 L282.2,344.41 L283.0,344.56 L283.8,343.40 L284.6,343.93 L285.4,344.44 L286.2,342.67 L287.0,344.05 L287.8,343.74 L288.6,343.87 L289.4,343.04 L290.2,344.46 L291.0,343.54 L291.8,344.08 L292.6,344.27 L293.4,343.37 L294.2,342.63 L295.0,344.37 L295.8,343.92 L296.6,344.01 L297.4,344.24 L298.2,344.12 L299.0,344.11 L299.8,342.98 L300.6,343.03 L301.4,343.91 L302.2,344.27 L303.0,343.70 L303.8,344.24 L304.6,343.07 L305.4,344.18 L306.2,344.33 L307.0,343.47 L307.8,344.45 L308.6,343.79 L309.4,344.59 L310.2,343.92 L311.0,343.62 L311.8,344.47 L312.6,344.29 L313.4,344.39 L314.2,342.95 L315.0,344.26 L315.8,343.32 L316.6,343.18 L317.4,344.37 L318.2,341.41 L319.0,344.17 L319.8,344.51 L320.6,344.33 L321.4,344.25 L322.2,344.07 L323.0,343.25 L323.8,342.84 L324.6,344.49 L325.4,344.13 L326.2,344.07 L327.0,342.66 L327.8,343.87 L328.6,343.60 L329.4,344.14 L330.2,344.33 L331.0,344.41 L331.8,344.41 L332.6,343.92 L333.4,344.05 L334.2,344.32 L335.0,344.46 L335.8,343.28 L336.6,343.92 L337.4,344.25 L338.2,344.27 L339.0,343.89 L339.8,344.27 L340.6,343.76 L341.4,343.98 L342.2,343.79 L343.0,344.27 L343.8,343.29 L344.6,344.12 L345.4,343.85 L346.2,343.55 L347.0,342.60 L347.8,344.50 L348.6,343.38 L349.4,344.12 L350.2,344.42 L351.0,343.36 L351.8,344.42 L352.6,342.92 L353.4,343.89 L354.2,344.26 L355.0,344.17 L355.8,343.32 L356.6,344.05 L357.4,343.45 L358.2,343.62 L359.0,342.55 L359.8,342.59 L360.6,342.97 L361.4,343.19 L362.2,343.26 L363.0,342.91 L363.8,343.05 L364.6,342.67 L365.4,342.68 L366.2,342.71 L367.0,342.02 L367.8,342.09 L368.6,343.31 L369.4,343.17 L370.2,343.57 L371.0,342.53 L371.8,343.52 L372.6,343.94 L373.4,343.66 L374.2,342.87 L375.0,344.02 L375.8,344.10 L376.6,343.93 L377.4,343.82 L378.2,343.87 L379.0,344.42 L379.8,343.71 L380.6,343.91 L381.4,344.01 L382.2,344.20 L383.0,344.26 L383.8,343.95 L384.6,343.45 L385.4,344.27 L386.2,343.69 L387.0,343.95 L387.8,343.73 L388.6,343.62 L389.4,343.95 L390.2,344.54 L391.0,343.70 L391.8,344.41 L392.6,344.47 L393.4,344.52 L394.2,344.36 L395.0,343.81 L395.8,343.94 L396.6,344.60 L397.4,344.57 L398.2,342.74 L399.0,344.25 L399.8,343.90 L400.6,343.95 L401.4,344.20 L402.2,344.51 L403.0,344.30 L403.8,344.16 L404.6,343.97 L405.4,343.97 L406.2,344.22 L407.0,344.25 L407.8,344.58 L408.6,343.87 L409.4,344.21 L410.2,343.97 L411.0,344.50 L411.8,343.57 L412.6,342.60 L413.4,344.19 L414.2,343.16 L415.0,343.04 L415.8,344.09 L416.6,343.35 L417.4,342.46 L418.2,344.22 L419.0,343.61 L419.8,343.70 L420.6,344.26 L421.4,343.30 L422.2,344.53 L423.0,344.07 L423.8,344.54 L424.6,344.41 L425.4,344.56 L426.2,344.24 L427.0,342.63 L427.8,343.19 L428.6,344.09 L429.4,344.01 L430.2,343.88 L431.0,344.45 L431.8,344.44 L432.6,343.18 L433.4,344.25 L434.2,344.03 L435.0,343.60 L435.8,342.71 L436.6,344.02 L437.4,343.84 L438.2,344.50 L439.0,344.58 L439.8,343.15 L440.6,344.02 L441.4,344.37 L442.2,344.45 L443.0,342.01 L443.8,343.79 L444.6,343.77 L445.4,344.50 L446.2,344.31 L447.0,344.41 L447.8,343.76 L448.6,343.98 L449.4,344.32 L450.2,344.48 L451.0,344.59 L451.8,344.31 L452.6,344.35 L453.4,344.41 L454.2,344.57 L455.0,343.68 L455.8,344.50 L456.6,344.33 L457.4,342.26 L458.2,344.04 L459.0,344.14 L459.8,343.63 L460.6,343.69 L461.4,343.96 L462.2,343.93 L463.0,344.21 L463.8,343.72 L464.6,343.89 L465.4,343.53 L466.2,344.02 L467.0,344.21 L467.8,344.11 L468.6,343.49 L469.4,344.48 L470.2,343.43 L471.0,344.50 L471.8,343.70 L472.6,343.72 L473.4,344.30 L474.2,342.63 L475.0,344.25 L475.8,343.68 L476.6,344.30 L477.4,344.03 L478.2,344.02 L479.0,344.08 L479.8,343.28 L480.6,343.79 L481.4,344.27 L482.2,343.89 L483.0,344.34 L483.8,344.33 L484.6,344.59 L485.4,344.22 L486.2,343.54 L487.0,344.09 L487.8,344.59 L488.6,344.28 L489.4,344.51 L490.2,344.33 L491.0,344.37 L491.8,343.90 L492.6,344.31 L493.4,344.31 L494.2,343.91 L495.0,344.23 L495.8,344.58 L496.6,343.45 L497.4,343.56 L498.2,343.80 L499.0,344.53 L499.8,343.43 L500.6,343.05 L501.4,344.01 L502.2,343.35 L503.0,342.74 L503.8,344.41 L504.6,343.21 L505.4,344.42 L506.2,342.96 L507.0,344.25 L507.8,344.28 L508.6,344.10 L509.4,344.38 L510.2,344.49 L511,345.6 L43,345.6 Z" fill="#000" stroke="#000" stroke-width="0.7" stroke-linejoin="round"/>
<text x="33" y="238.15" font-size="8.8" text-anchor="middle" fill="#000" stroke="#000" stroke-width="0.12">1.5</text>
<text x="33" y="276.65" font-size="8.8" text-anchor="middle" fill="#000" stroke="#000" stroke-width="0.12">1.0</text>
<text x="33" y="313.65" font-size="8.8" text-anchor="middle" fill="#000" stroke="#000" stroke-width="0.12">0.5</text>
<text x="77" y="355.15" font-size="8.8" text-anchor="middle" fill="#000" stroke="#000" stroke-width="0.12">4</text>
<text x="115" y="355.15" font-size="8.8" text-anchor="middle" fill="#000" stroke="#000" stroke-width="0.12">8</text>
<text x="151.75" y="355.15" font-size="8.8" text-anchor="middle" fill="#000" stroke="#000" stroke-width="0.12">12</text>
<text x="188.75" y="355.15" font-size="8.8" text-anchor="middle" fill="#000" stroke="#000" stroke-width="0.12">16</text>
<text x="226" y="355.15" font-size="8.8" text-anchor="middle" fill="#000" stroke="#000" stroke-width="0.12">20</text>
<text x="264" y="355.15" font-size="8.8" text-anchor="middle" fill="#000" stroke="#000" stroke-width="0.12">24</text>
<text x="301" y="355.15" font-size="8.8" text-anchor="middle" fill="#000" stroke="#000" stroke-width="0.12">28</text>
<text x="338.75" y="355.15" font-size="8.8" text-anchor="middle" fill="#000" stroke="#000" stroke-width="0.12">32</text>
<text x="376" y="355.15" font-size="8.8" text-anchor="middle" fill="#000" stroke="#000" stroke-width="0.12">36</text>
<text x="413" y="355.15" font-size="8.8" text-anchor="middle" fill="#000" stroke="#000" stroke-width="0.12">40</text>
<text x="450.8" y="355.15" font-size="8.8" text-anchor="middle" fill="#000" stroke="#000" stroke-width="0.12">44</text>
<text x="488" y="355.15" font-size="8.8" text-anchor="middle" fill="#000" stroke="#000" stroke-width="0.12">48</text>
<text transform="translate(19,271) rotate(-90)" x="0" y="3.08" font-size="8.6" text-anchor="middle" fill="#000" textLength="77" lengthAdjust="spacingAndGlyphs" stroke="#000" stroke-width="0.12">Intensity (cps  ×10<tspan font-size="60%" dy="-3">3</tspan><tspan dy="3">)</tspan></text>
<text x="281.2" y="367.45" font-size="8.8" text-anchor="middle" fill="#000" textLength="57" lengthAdjust="spacingAndGlyphs" stroke="#000" stroke-width="0.12">Time (minutes)</text>
<text x="278" y="201.90" font-size="8.8" text-anchor="middle" fill="#000" stroke="#000" stroke-width="0.12">25.3</text>
<text x="234.5" y="231.15" font-size="8.8" text-anchor="middle" fill="#000" textLength="42.5" lengthAdjust="spacingAndGlyphs" stroke="#000" stroke-width="0.12">764 <tspan font-family="DejaVu Sans" font-size="9">→</tspan> 319</text>
<text x="234.5" y="276.15" font-size="8.8" text-anchor="middle" fill="#000" textLength="42.5" lengthAdjust="spacingAndGlyphs" stroke="#000" stroke-width="0.12">764 <tspan font-family="DejaVu Sans" font-size="9">→</tspan> 115</text>
<line x1="258.75" y1="229.5" x2="274" y2="211" stroke="#222" stroke-width="0.9" stroke-linecap="butt"/>
<line x1="258" y1="272.5" x2="273" y2="297.5" stroke="#222" stroke-width="0.9" stroke-linecap="butt"/>
<path d="M275.6,344 L275.9,335 L276.3,310 L276.8,285 L277.3,260 L278,235 L279,207.5 L280,235 L281,260 L282,280 L282.7,300 L283.3,322 L284.8,330 L287,336" fill="none" stroke="#000" stroke-width="1.25" stroke-linejoin="round"/>
<path d="M279,207.5 L279.3,290" fill="none" stroke="#000" stroke-width="1.1" stroke-linejoin="round"/>
<path d="M276,345 L276.2,325 L276.8,305 L277.5,294 L278.3,290 L279,288.5 L279.8,289 L280.5,287.5 L281.2,291 L282,297 L282.6,306 L283.1,320 L284.2,324 L285.3,326 L286.2,331 L287.2,330 L288,333 L289,337 L290.2,341 L290.8,345 Z" fill="#000" stroke="#000" stroke-width="0.6" stroke-linejoin="round"/>
<path d="M259.5,344 L261,341.5 L262.4,338 L263.4,331 L264.2,328.5 L264.8,327.5 L265.5,329.5 L266.2,334 L267,336 L268,334 L268.8,332 L269.5,331.5 L270.3,333.5 L271,337 L272,339 L273.2,338 L274.3,340.5 L275.5,341" fill="none" stroke="#000" stroke-width="1.3" stroke-linejoin="round"/>
<path d="M261,344 L263,340 L265,336.5 L267,339 L269,337 L271,340.5 L273,341.5 L275,343" fill="none" stroke="#000" stroke-width="1.0" stroke-linejoin="round"/>
<path d="M287,338 L288.5,336 L289.8,337.5 L290.8,332 L291.7,329.5 L292.6,333 L293.5,335 L294.4,333 L295.3,336 L296.2,339 L297.2,341.5 L298.5,343" fill="none" stroke="#000" stroke-width="1.3" stroke-linejoin="round"/>
<path d="M289,343 L290.5,338 L292,336 L293.5,339 L295,338.5 L296.5,342" fill="none" stroke="#000" stroke-width="1.0" stroke-linejoin="round"/>
<path d="M355,343.5 L357,341 L358.5,338.5 L360,339.5 L361.5,337.8 L363,339 L364.5,338 L366,339.5 L367.5,338.2 L369,340 L370.5,339.5 L372,342 L374,343.5" fill="none" stroke="#000" stroke-width="1.2" stroke-linejoin="round"/>
<path d="M299.1,344 L299.5,326 L300,318 L300.5,315.4 L301.1,318 L301.8,321.5 L302.2,330 L302.6,344" fill="none" stroke="#000" stroke-width="1.2" stroke-linejoin="round"/>
<line x1="77.5" y1="215.5" x2="77.5" y2="316.125" stroke="#000" stroke-width="1.25" stroke-linecap="butt"/>
<line x1="76.875" y1="315.5" x2="223" y2="315.5" stroke="#000" stroke-width="1.25" stroke-linecap="butt"/>
<line x1="79.5" y1="315.5" x2="79.5" y2="314.31" stroke="#222" stroke-width="0.7" stroke-linecap="butt"/>
<line x1="82.6" y1="315.5" x2="82.6" y2="314.04" stroke="#222" stroke-width="0.7" stroke-linecap="butt"/>
<line x1="88.8" y1="315.5" x2="88.8" y2="313.83" stroke="#222" stroke-width="0.7" stroke-linecap="butt"/>
<line x1="91.6" y1="315.5" x2="91.6" y2="314.33" stroke="#222" stroke-width="0.7" stroke-linecap="butt"/>
<line x1="108.4" y1="315.5" x2="108.4" y2="314.21" stroke="#222" stroke-width="0.7" stroke-linecap="butt"/>
<line x1="110.0" y1="315.5" x2="110.0" y2="314.21" stroke="#222" stroke-width="0.7" stroke-linecap="butt"/>
<line x1="118.6" y1="315.5" x2="118.6" y2="314.18" stroke="#222" stroke-width="0.7" stroke-linecap="butt"/>
<line x1="120.4" y1="315.5" x2="120.4" y2="313.94" stroke="#222" stroke-width="0.7" stroke-linecap="butt"/>
<line x1="124.3" y1="315.5" x2="124.3" y2="314.09" stroke="#222" stroke-width="0.7" stroke-linecap="butt"/>
<line x1="139.0" y1="315.5" x2="139.0" y2="314.36" stroke="#222" stroke-width="0.7" stroke-linecap="butt"/>
<line x1="145.7" y1="315.5" x2="145.7" y2="313.85" stroke="#222" stroke-width="0.7" stroke-linecap="butt"/>
<line x1="149.0" y1="315.5" x2="149.0" y2="314.29" stroke="#222" stroke-width="0.7" stroke-linecap="butt"/>
<line x1="152.6" y1="315.5" x2="152.6" y2="314.3" stroke="#222" stroke-width="0.7" stroke-linecap="butt"/>
<line x1="154.6" y1="315.5" x2="154.6" y2="313.77" stroke="#222" stroke-width="0.7" stroke-linecap="butt"/>
<line x1="157.1" y1="315.5" x2="157.1" y2="314.21" stroke="#222" stroke-width="0.7" stroke-linecap="butt"/>
<line x1="159.5" y1="315.5" x2="159.5" y2="314.23" stroke="#222" stroke-width="0.7" stroke-linecap="butt"/>
<line x1="173.3" y1="315.5" x2="173.3" y2="314.12" stroke="#222" stroke-width="0.7" stroke-linecap="butt"/>
<line x1="182.4" y1="315.5" x2="182.4" y2="314.03" stroke="#222" stroke-width="0.7" stroke-linecap="butt"/>
<line x1="191.6" y1="315.5" x2="191.6" y2="314.32" stroke="#222" stroke-width="0.7" stroke-linecap="butt"/>
<line x1="193.9" y1="315.5" x2="193.9" y2="314.15" stroke="#222" stroke-width="0.7" stroke-linecap="butt"/>
<line x1="195.7" y1="315.5" x2="195.7" y2="313.86" stroke="#222" stroke-width="0.7" stroke-linecap="butt"/>
<line x1="199.1" y1="315.5" x2="199.1" y2="314.33" stroke="#222" stroke-width="0.7" stroke-linecap="butt"/>
<line x1="201.5" y1="315.5" x2="201.5" y2="314.39" stroke="#222" stroke-width="0.7" stroke-linecap="butt"/>
<line x1="205.3" y1="315.5" x2="205.3" y2="314.01" stroke="#222" stroke-width="0.7" stroke-linecap="butt"/>
<line x1="209.2" y1="315.5" x2="209.2" y2="313.45" stroke="#222" stroke-width="0.7" stroke-linecap="butt"/>
<line x1="213.1" y1="315.5" x2="213.1" y2="313.87" stroke="#222" stroke-width="0.7" stroke-linecap="butt"/>
<line x1="82.5" y1="315.5" x2="82.5" y2="313.74" stroke="#111" stroke-width="0.8" stroke-linecap="butt"/>
<line x1="84.2" y1="315.5" x2="84.2" y2="313.82" stroke="#111" stroke-width="0.8" stroke-linecap="butt"/>
<line x1="85.8" y1="315.5" x2="85.8" y2="314.18" stroke="#111" stroke-width="0.8" stroke-linecap="butt"/>
<line x1="87.1" y1="315.5" x2="87.1" y2="314.18" stroke="#111" stroke-width="0.8" stroke-linecap="butt"/>
<line x1="89.4" y1="315.5" x2="89.4" y2="314.43" stroke="#111" stroke-width="0.8" stroke-linecap="butt"/>
<line x1="91.8" y1="315.5" x2="91.8" y2="313.46" stroke="#111" stroke-width="0.8" stroke-linecap="butt"/>
<line x1="93.0" y1="315.5" x2="93.0" y2="314.56" stroke="#111" stroke-width="0.8" stroke-linecap="butt"/>
<line x1="94.8" y1="315.5" x2="94.8" y2="313.77" stroke="#111" stroke-width="0.8" stroke-linecap="butt"/>
<line x1="96.3" y1="315.5" x2="96.3" y2="313.78" stroke="#111" stroke-width="0.8" stroke-linecap="butt"/>
<line x1="98.7" y1="315.5" x2="98.7" y2="314.22" stroke="#111" stroke-width="0.8" stroke-linecap="butt"/>
<line x1="101.3" y1="315.5" x2="101.3" y2="314.57" stroke="#111" stroke-width="0.8" stroke-linecap="butt"/>
<line x1="102.9" y1="315.5" x2="102.9" y2="313.46" stroke="#111" stroke-width="0.8" stroke-linecap="butt"/>
<line x1="80.5" y1="315.5" x2="80.5" y2="309.5" stroke="#000" stroke-width="1.25" stroke-linecap="butt"/>
<line x1="97.5" y1="315.5" x2="97.5" y2="304.5" stroke="#000" stroke-width="1.25" stroke-linecap="butt"/>
<line x1="107.5" y1="315.5" x2="107.5" y2="289" stroke="#000" stroke-width="1.25" stroke-linecap="butt"/>
<line x1="115.5" y1="315.5" x2="115.5" y2="297" stroke="#000" stroke-width="1.6" stroke-linecap="butt"/>
<line x1="119.5" y1="315.5" x2="119.5" y2="277" stroke="#000" stroke-width="1.25" stroke-linecap="butt"/>
<line x1="143.5" y1="315.5" x2="143.5" y2="297.5" stroke="#000" stroke-width="1.25" stroke-linecap="butt"/>
<line x1="147.5" y1="315.5" x2="147.5" y2="215" stroke="#000" stroke-width="1.25" stroke-linecap="butt"/>
<line x1="190.5" y1="315.5" x2="190.5" y2="312" stroke="#000" stroke-width="1.25" stroke-linecap="butt"/>
<line x1="205.5" y1="315.5" x2="205.5" y2="246.5" stroke="#000" stroke-width="1.25" stroke-linecap="butt"/>
<line x1="99.5" y1="315.5" x2="99.5" y2="312" stroke="#000" stroke-width="1.25" stroke-linecap="butt"/>
<line x1="94.5" y1="315.5" x2="94.5" y2="312.5" stroke="#000" stroke-width="1.25" stroke-linecap="butt"/>
<text x="83.75" y="307.43" font-size="6.8" text-anchor="middle" fill="#000" stroke="#000" stroke-width="0.12">115</text>
<text x="97.5" y="302.93" font-size="6.8" text-anchor="middle" fill="#000" stroke="#000" stroke-width="0.12">203</text>
<text x="108" y="287.93" font-size="6.8" text-anchor="middle" fill="#000" stroke="#000" stroke-width="0.12">257</text>
<text x="113.75" y="294.18" font-size="6.8" text-anchor="middle" fill="#000" stroke="#000" stroke-width="0.12">301</text>
<text x="120" y="275.43" font-size="6.8" text-anchor="middle" fill="#000" stroke="#000" stroke-width="0.12">319</text>
<text x="139.5" y="296.18" font-size="6.8" text-anchor="middle" fill="#000" stroke="#000" stroke-width="0.12">444</text>
<text x="147" y="213.43" font-size="6.8" text-anchor="middle" fill="#000" stroke="#000" stroke-width="0.12">462</text>
<text x="205" y="246.83" font-size="6.8" text-anchor="middle" fill="#000" stroke="#000" stroke-width="0.12">764</text>
<text x="71.5" y="224.76" font-size="6.3" text-anchor="middle" fill="#000" stroke="#000" stroke-width="0.12">10</text>
<text x="73" y="243.26" font-size="6.3" text-anchor="middle" fill="#000" stroke="#000" stroke-width="0.12">8</text>
<text x="73" y="262.26" font-size="6.3" text-anchor="middle" fill="#000" stroke="#000" stroke-width="0.12">6</text>
<text x="73" y="282.26" font-size="6.3" text-anchor="middle" fill="#000" stroke="#000" stroke-width="0.12">4</text>
<text x="73" y="301.01" font-size="6.3" text-anchor="middle" fill="#000" stroke="#000" stroke-width="0.12">2</text>
<text transform="translate(63.5,262) rotate(-90)" x="0" y="2.26" font-size="6.3" text-anchor="middle" fill="#000" textLength="58" lengthAdjust="spacingAndGlyphs" stroke="#000" stroke-width="0.12">Intensity (cps ×10<tspan font-size="60%" dy="-2">5</tspan><tspan dy="2">)</tspan></text>
<text x="150.625" y="205.97" font-size="6.2" text-anchor="middle" fill="#222" textLength="112.8" lengthAdjust="spacingAndGlyphs" stroke="#000" stroke-width="0.12">Product Ion spectrum of Neutrophil Extract</text>
<text x="98.75" y="321.76" font-size="6.3" text-anchor="middle" fill="#000" stroke="#000" stroke-width="0.12">200</text>
<text x="135.5" y="321.76" font-size="6.3" text-anchor="middle" fill="#000" stroke="#000" stroke-width="0.12">400</text>
<text x="174.5" y="321.76" font-size="6.3" text-anchor="middle" fill="#000" stroke="#000" stroke-width="0.12">600</text>
<text x="213.75" y="321.76" font-size="6.3" text-anchor="middle" fill="#000" stroke="#000" stroke-width="0.12">800</text>
<text x="157" y="327.06" font-size="6.3" text-anchor="middle" fill="#000" stroke="#000" stroke-width="0.12">m/z (amu)</text>
<line x1="79" y1="209.5" x2="100.5" y2="209.5" stroke="#000" stroke-width="1.2" stroke-linecap="butt"/>
<text x="89" y="217.26" font-size="6.3" text-anchor="middle" fill="#000" stroke="#000" stroke-width="0.12">x 3</text>
<line x1="320.5" y1="213.75" x2="320.5" y2="318.125" stroke="#000" stroke-width="1.25" stroke-linecap="butt"/>
<line x1="319.875" y1="317.5" x2="491" y2="317.5" stroke="#000" stroke-width="1.25" stroke-linecap="butt"/>
<line x1="339.7" y1="317.5" x2="339.7" y2="316.05" stroke="#222" stroke-width="0.7" stroke-linecap="butt"/>
<line x1="343.0" y1="317.5" x2="343.0" y2="316.22" stroke="#222" stroke-width="0.7" stroke-linecap="butt"/>
<line x1="360.0" y1="317.5" x2="360.0" y2="316.14" stroke="#222" stroke-width="0.7" stroke-linecap="butt"/>
<line x1="369.0" y1="317.5" x2="369.0" y2="316.24" stroke="#222" stroke-width="0.7" stroke-linecap="butt"/>
<line x1="376.8" y1="317.5" x2="376.8" y2="316.14" stroke="#222" stroke-width="0.7" stroke-linecap="butt"/>
<line x1="379.9" y1="317.5" x2="379.9" y2="316.29" stroke="#222" stroke-width="0.7" stroke-linecap="butt"/>
<line x1="383.1" y1="317.5" x2="383.1" y2="316.19" stroke="#222" stroke-width="0.7" stroke-linecap="butt"/>
<line x1="385.0" y1="317.5" x2="385.0" y2="316.29" stroke="#222" stroke-width="0.7" stroke-linecap="butt"/>
<line x1="390.4" y1="317.5" x2="390.4" y2="316.28" stroke="#222" stroke-width="0.7" stroke-linecap="butt"/>
<line x1="404.3" y1="317.5" x2="404.3" y2="316.25" stroke="#222" stroke-width="0.7" stroke-linecap="butt"/>
<line x1="408.7" y1="317.5" x2="408.7" y2="316.32" stroke="#222" stroke-width="0.7" stroke-linecap="butt"/>
<line x1="419.0" y1="317.5" x2="419.0" y2="316.3" stroke="#222" stroke-width="0.7" stroke-linecap="butt"/>
<line x1="432.0" y1="317.5" x2="432.0" y2="316.09" stroke="#222" stroke-width="0.7" stroke-linecap="butt"/>
<line x1="443.2" y1="317.5" x2="443.2" y2="316.36" stroke="#222" stroke-width="0.7" stroke-linecap="butt"/>
<line x1="449.6" y1="317.5" x2="449.6" y2="316.24" stroke="#222" stroke-width="0.7" stroke-linecap="butt"/>
<line x1="456.9" y1="317.5" x2="456.9" y2="316.14" stroke="#222" stroke-width="0.7" stroke-linecap="butt"/>
<line x1="465.5" y1="317.5" x2="465.5" y2="316.07" stroke="#222" stroke-width="0.7" stroke-linecap="butt"/>
<line x1="469.3" y1="317.5" x2="469.3" y2="316.29" stroke="#222" stroke-width="0.7" stroke-linecap="butt"/>
<line x1="477.3" y1="317.5" x2="477.3" y2="316.23" stroke="#222" stroke-width="0.7" stroke-linecap="butt"/>
<line x1="479.5" y1="317.5" x2="479.5" y2="315.82" stroke="#222" stroke-width="0.7" stroke-linecap="butt"/>
<line x1="325.5" y1="317.5" x2="325.5" y2="316.44" stroke="#111" stroke-width="0.8" stroke-linecap="butt"/>
<line x1="327.9" y1="317.5" x2="327.9" y2="315.85" stroke="#111" stroke-width="0.8" stroke-linecap="butt"/>
<line x1="329.4" y1="317.5" x2="329.4" y2="316.53" stroke="#111" stroke-width="0.8" stroke-linecap="butt"/>
<line x1="331.2" y1="317.5" x2="331.2" y2="316.15" stroke="#111" stroke-width="0.8" stroke-linecap="butt"/>
<line x1="332.7" y1="317.5" x2="332.7" y2="315.69" stroke="#111" stroke-width="0.8" stroke-linecap="butt"/>
<line x1="335.2" y1="317.5" x2="335.2" y2="315.25" stroke="#111" stroke-width="0.8" stroke-linecap="butt"/>
<line x1="337.6" y1="317.5" x2="337.6" y2="315.65" stroke="#111" stroke-width="0.8" stroke-linecap="butt"/>
<line x1="340.0" y1="317.5" x2="340.0" y2="316.37" stroke="#111" stroke-width="0.8" stroke-linecap="butt"/>
<line x1="341.2" y1="317.5" x2="341.2" y2="316.26" stroke="#111" stroke-width="0.8" stroke-linecap="butt"/>
<line x1="342.9" y1="317.5" x2="342.9" y2="315.49" stroke="#111" stroke-width="0.8" stroke-linecap="butt"/>
<line x1="345.2" y1="317.5" x2="345.2" y2="316.38" stroke="#111" stroke-width="0.8" stroke-linecap="butt"/>
<line x1="346.7" y1="317.5" x2="346.7" y2="315.5" stroke="#111" stroke-width="0.8" stroke-linecap="butt"/>
<line x1="323.5" y1="317.5" x2="323.5" y2="312" stroke="#000" stroke-width="1.25" stroke-linecap="butt"/>
<line x1="343.5" y1="317.5" x2="343.5" y2="308.75" stroke="#000" stroke-width="1.25" stroke-linecap="butt"/>
<line x1="355.5" y1="317.5" x2="355.5" y2="291" stroke="#000" stroke-width="1.25" stroke-linecap="butt"/>
<line x1="365.5" y1="317.5" x2="365.5" y2="300" stroke="#000" stroke-width="1.6" stroke-linecap="butt"/>
<line x1="369.5" y1="317.5" x2="369.5" y2="276" stroke="#000" stroke-width="1.25" stroke-linecap="butt"/>
<line x1="375.5" y1="317.5" x2="375.5" y2="313.75" stroke="#000" stroke-width="1.25" stroke-linecap="butt"/>
<line x1="398.5" y1="317.5" x2="398.5" y2="302" stroke="#000" stroke-width="1.25" stroke-linecap="butt"/>
<line x1="402.5" y1="317.5" x2="402.5" y2="213.75" stroke="#000" stroke-width="1.25" stroke-linecap="butt"/>
<line x1="405.5" y1="317.5" x2="405.5" y2="313.75" stroke="#000" stroke-width="1.25" stroke-linecap="butt"/>
<line x1="469.5" y1="317.5" x2="469.5" y2="216" stroke="#000" stroke-width="1.25" stroke-linecap="butt"/>
<line x1="341.5" y1="317.5" x2="341.5" y2="313.5" stroke="#000" stroke-width="1.25" stroke-linecap="butt"/>
<text x="327.5" y="309.93" font-size="6.8" text-anchor="middle" fill="#000" stroke="#000" stroke-width="0.12">115</text>
<text x="343" y="306.18" font-size="6.8" text-anchor="middle" fill="#000" stroke="#000" stroke-width="0.12">203</text>
<text x="355.5" y="289.43" font-size="6.8" text-anchor="middle" fill="#000" stroke="#000" stroke-width="0.12">257</text>
<text x="363.25" y="297.93" font-size="6.8" text-anchor="middle" fill="#000" stroke="#000" stroke-width="0.12">301</text>
<text x="369.5" y="273.43" font-size="6.8" text-anchor="middle" fill="#000" stroke="#000" stroke-width="0.12">319</text>
<text x="395.5" y="299.43" font-size="6.8" text-anchor="middle" fill="#000" stroke="#000" stroke-width="0.12">444</text>
<text x="402" y="210.43" font-size="6.8" text-anchor="middle" fill="#000" stroke="#000" stroke-width="0.12">462</text>
<text x="469.7" y="212.83" font-size="6.8" text-anchor="middle" fill="#000" stroke="#000" stroke-width="0.12">764</text>
<text x="313.75" y="226.01" font-size="6.3" text-anchor="middle" fill="#000" stroke="#000" stroke-width="0.12">12</text>
<text transform="translate(315,255.75) rotate(-90)" x="0" y="2.26" font-size="6.3" text-anchor="middle" fill="#000" stroke="#000" stroke-width="0.12">8</text>
<text x="315.5" y="290.26" font-size="6.3" text-anchor="middle" fill="#000" stroke="#000" stroke-width="0.12">4</text>
<text transform="translate(308,265) rotate(-90)" x="0" y="2.26" font-size="6.3" text-anchor="middle" fill="#000" textLength="58" lengthAdjust="spacingAndGlyphs" stroke="#000" stroke-width="0.12">Intensity (cps ×10<tspan font-size="60%" dy="-2">5</tspan><tspan dy="2">)</tspan></text>
<text x="396.4" y="201.72" font-size="6.2" text-anchor="middle" fill="#222" textLength="88.8" lengthAdjust="spacingAndGlyphs" stroke="#000" stroke-width="0.12">Product Ion spectrum of Standard</text>
<text x="344.5" y="324.76" font-size="6.3" text-anchor="middle" fill="#000" stroke="#000" stroke-width="0.12">200</text>
<text x="388.75" y="324.76" font-size="6.3" text-anchor="middle" fill="#000" stroke="#000" stroke-width="0.12">400</text>
<text x="434.6" y="324.76" font-size="6.3" text-anchor="middle" fill="#000" stroke="#000" stroke-width="0.12">600</text>
<text x="478.5" y="324.76" font-size="6.3" text-anchor="middle" fill="#000" stroke="#000" stroke-width="0.12">800</text>
<text x="411" y="329.56" font-size="6.3" text-anchor="middle" fill="#000" stroke="#000" stroke-width="0.12">m/z (amu)</text>
<line x1="322.5" y1="206.5" x2="348.75" y2="206.5" stroke="#000" stroke-width="1.2" stroke-linecap="butt"/>
<text x="335" y="213.76" font-size="6.3" text-anchor="middle" fill="#000" stroke="#000" stroke-width="0.12">x 3</text>
<text x="8.9" y="391.19" font-size="14.5" text-anchor="middle" fill="#000" font-weight="bold">C</text>
<line x1="40.5" y1="397" x2="40.5" y2="543" stroke="#222" stroke-width="1.4" stroke-linecap="butt"/>
<path d="M40.5,542.16 L41.5,542.34 L42.5,542.08 L43.5,542.02 L44.5,542.10 L45.5,542.39 L46.5,542.32 L47.5,542.34 L48.5,542.07 L49.5,542.28 L50.5,542.16 L51.5,542.34 L52.5,542.32 L53.5,542.14 L54.5,542.38 L55.5,542.26 L56.5,542.39 L57.5,542.28 L58.5,541.83 L59.5,542.38 L60.5,542.04 L61.5,542.17 L62.5,542.09 L63.5,542.12 L64.5,542.23 L65.5,542.28 L66.5,542.22 L67.5,542.04 L68.5,542.31 L69.5,542.35 L70.5,542.38 L71.5,542.23 L72.5,542.31 L73.5,541.95 L74.5,542.24 L75.5,541.90 L76.5,542.34 L77.5,542.34 L78.5,542.19 L79.5,542.20 L80.5,542.14 L81.5,542.36 L82.5,542.30 L83.5,542.33 L84.5,542.30 L85.5,542.33 L86.5,541.93 L87.5,542.15 L88.5,542.39 L89.5,542.37 L90.5,542.13 L91.5,542.24 L92.5,542.30 L93.5,542.39 L94.5,541.84 L95.5,542.39 L96.5,542.18 L97.5,542.28 L98.5,542.33 L99.5,542.32 L100.5,542.27 L101.5,542.33 L102.5,541.91 L103.5,542.00 L104.5,542.10 L105.5,542.29 L106.5,542.29 L107.5,542.31 L108.5,542.31 L109.5,541.59 L110.5,542.27 L111.5,542.40 L112.5,542.23 L113.5,541.81 L114.5,542.37 L115.5,542.06 L116.5,542.17 L117.5,542.34 L118.5,542.25 L119.5,542.10 L120.5,542.38 L121.5,542.29 L122.5,542.11 L123.5,541.99 L124.5,542.16 L125.5,542.26 L126.5,541.80 L127.5,541.98 L128.5,542.36 L129.5,542.38 L130.5,542.33 L131.5,542.19 L132.5,542.24 L133.5,542.33 L134.5,542.19 L135.5,542.32 L136.5,542.10 L137.5,542.21 L138.5,542.05 L139.5,542.14 L140.5,541.97 L141.5,542.33 L142.5,542.30 L143.5,542.13 L144.5,542.35 L145.5,542.22 L146.5,542.38 L147.5,542.14 L148.5,542.32 L149.5,541.76 L150.5,542.20 L151.5,542.26 L152.5,542.25 L153.5,542.21 L154.5,542.32 L155.5,542.27 L156.5,542.29 L157.5,542.24 L158.5,541.75 L159.5,542.19 L160.5,542.12 L161.5,541.86 L162.5,542.06 L163.5,542.37 L164.5,542.31 L165.5,542.39 L166.5,542.34 L167.5,542.16 L168.5,541.90 L169.5,541.98 L170.5,542.32 L171.5,542.29 L172.5,542.27 L173.5,542.35 L174.5,542.13 L175.5,542.24 L176.5,542.37 L177.5,542.31 L178.5,542.03 L179.5,542.28 L180.5,542.38 L181.5,542.16 L182.5,542.28 L183.5,542.30 L184.5,542.31 L185.5,541.98 L186.5,542.19 L187.5,542.20 L188.5,542.34 L189.5,542.35 L190.5,542.25 L191.5,542.37 L192.5,542.33 L193.5,542.32 L194.5,542.37 L195.5,542.23 L196.5,542.25 L197.5,542.39 L198.5,542.09 L199.5,542.31 L200.5,542.28 L201.5,542.30 L202.5,541.80 L203.5,542.33 L204.5,541.82 L205.5,542.27 L206.5,541.62 L207.5,542.26 L208.5,542.16 L209.5,542.20 L210.5,542.09 L211.5,542.35 L212.5,542.32 L213.5,542.35 L214.5,542.21 L215.5,542.16 L216.5,542.28 L217.5,542.02 L218.5,542.38 L219.5,542.29 L220.5,542.31 L221.5,542.14 L222.5,542.04 L223.5,542.38 L224.5,542.08 L225.5,542.29 L226.5,542.04 L227.5,542.03 L228.5,542.34 L229.5,541.94 L230.5,542.36 L231.5,542.05 L232.5,542.35 L233.5,542.35 L234.5,542.12 L235.5,542.20 L236.5,542.29 L237.5,542.17 L238.5,542.25 L239.5,542.33 L240.5,542.28 L241.5,542.30 L242.5,542.19 L243.5,542.31 L244.5,542.10 L245.5,542.34 L246.5,541.97 L247.5,542.33 L248.5,542.18 L249.5,542.02 L250.5,541.78 L251.5,542.37 L252.5,541.82 L253.5,542.02 L254.5,541.89 L255.5,542.27 L256.5,542.04 L257.5,541.92 L258.5,541.79 L259.5,541.16 L260.5,541.29 L261.5,541.05 L262.5,541.12 L263.5,541.27 L264.5,540.88 L265.5,541.07 L266.5,540.03 L267.5,538.68 L268.5,538.78 L269.5,540.56 L270.5,541.64 L271.5,542.06 L272.5,542.38 L273.5,542.21 L274.5,542.24 L275.5,542.38 L276.5,541.84 L277.5,542.18 L278.5,542.28 L279.5,542.38 L280.5,542.37 L281.5,542.32 L282.5,542.40 L283.5,541.91 L284.5,542.26 L285.5,542.28 L286.5,542.16 L287.5,542.17 L288.5,541.88 L289.5,541.22 L290.5,540.80 L291.5,540.87 L292.5,540.47 L293.5,540.90 L294.5,541.25 L295.5,541.62 L296.5,542.13 L297.5,542.33 L298.5,542.31 L299.5,542.23 L300.5,542.17 L301.5,542.22 L302.5,542.13 L303.5,542.01 L304.5,542.26 L305.5,542.30 L306.5,542.35 L307.5,542.13 L308.5,542.15 L309.5,542.19 L310.5,542.25 L311.5,542.34 L312.5,542.22 L313.5,542.27 L314.5,542.25 L315.5,542.12 L316.5,542.25 L317.5,542.03 L318.5,542.29 L319.5,542.12 L320.5,541.78 L321.5,541.49 L322.5,541.33 L323.5,541.83 L324.5,542.19 L325.5,541.85 L326.5,542.38 L327.5,542.23 L328.5,542.18 L329.5,542.34 L330.5,542.09 L331.5,542.36 L332.5,541.91 L333.5,542.31 L334.5,542.19 L335.5,541.98 L336.5,542.29 L337.5,542.39 L338.5,542.36 L339.5,542.20 L340.5,542.31 L341.5,542.37 L342.5,541.80 L343.5,542.19 L344.5,541.81 L345.5,541.61 L346.5,541.59 L347.5,541.85 L348.5,541.87 L349.5,541.63 L350.5,542.25 L351.5,542.20 L352.5,542.17 L353.5,542.21 L354.5,542.15 L355.5,542.11 L356.5,542.27 L357.5,542.25 L358.5,542.29 L359.5,542.18 L360.5,542.26 L361.5,542.09 L362.5,542.18 L363.5,542.16 L364.5,542.02 L365.5,542.38 L366.5,542.12 L367.5,542.36 L368.5,542.15 L369.5,542.12 L370.5,542.05 L371.5,542.17 L372.5,542.38 L373.5,542.26 L374.5,542.04 L375.5,542.29 L376.5,542.37 L377.5,542.18 L378.5,542.39 L379.5,542.14 L380.5,542.06 L381.5,542.01 L382.5,541.95 L383.5,541.75 L384.5,541.45 L385.5,541.22 L386.5,541.72 L387.5,541.90 L388.5,542.08 L389.5,542.19 L390.5,541.85 L391.5,542.25 L392.5,542.36 L393.5,542.24 L394.5,542.30 L395.5,542.16 L396.5,541.87 L397.5,541.64 L398.5,542.03 L399.5,542.25 L400.5,542.31 L401.5,542.40 L402.5,542.31 L403.5,542.16 L404.5,542.06 L405.5,542.32 L406.5,542.09 L407.5,542.33 L408.5,541.84 L409.5,542.08 L410.5,542.20 L411.5,542.28 L412.5,542.07 L413.5,542.12 L414.5,542.24 L415.5,542.37 L416.5,541.83 L417.5,542.29 L418.5,542.04 L419.5,542.31 L420.5,542.25 L421.5,542.38 L422.5,541.94 L423.5,542.23 L424.5,542.25 L425.5,542.32 L426.5,542.30 L427.5,542.22 L428.5,542.26 L429.5,542.25 L430.5,542.15 L431.5,542.34 L432.5,542.35 L433.5,542.13 L434.5,542.33 L435.5,542.38 L436.5,542.34 L437.5,542.28 L438.5,542.25 L439.5,542.32 L440.5,542.25 L441.5,542.14 L442.5,541.98 L443.5,542.17 L444.5,542.26 L445.5,541.85 L446.5,542.26 L447.5,542.20 L448.5,542.16 L449.5,542.34 L450.5,542.34 L451.5,542.12 L452.5,542.20 L453.5,541.96 L454.5,542.33 L455.5,542.32 L456.5,542.10 L457.5,542.33 L458.5,542.39 L459.5,542.06 L460.5,542.18 L461.5,542.33 L462.5,542.23 L463.5,542.39 L464.5,542.11 L465.5,542.29 L466.5,542.22 L467.5,541.95 L468.5,542.39 L469.5,542.36 L470.5,542.27 L471.5,542.37 L472.5,542.33 L473.5,542.23 L474.5,542.24 L475.5,542.08 L476.5,542.18 L477.5,542.31 L478.5,542.26 L479.5,542.23 L480.5,542.13 L481.5,542.24 L482.5,542.00 L483.5,542.32 L484.5,542.38 L485.5,542.32 L486,543.0 L40.5,543.0 Z" fill="#000" stroke="#000" stroke-width="0.7" stroke-linejoin="round"/>
<text x="36.5" y="418.35" font-size="8.8" text-anchor="middle" fill="#000" stroke="#000" stroke-width="0.12">3</text>
<text x="36.5" y="461.85" font-size="8.8" text-anchor="middle" fill="#000" stroke="#000" stroke-width="0.12">2</text>
<text x="36.5" y="505.65" font-size="8.8" text-anchor="middle" fill="#000" stroke="#000" stroke-width="0.12">1</text>
<text x="31.75" y="550.15" font-size="8.8" text-anchor="middle" fill="#000" stroke="#000" stroke-width="0.12">0.0</text>
<text x="73.25" y="552.65" font-size="8.8" text-anchor="middle" fill="#000" stroke="#000" stroke-width="0.12">4</text>
<text x="109.25" y="552.65" font-size="8.8" text-anchor="middle" fill="#000" stroke="#000" stroke-width="0.12">8</text>
<text x="145" y="552.65" font-size="8.8" text-anchor="middle" fill="#000" stroke="#000" stroke-width="0.12">12</text>
<text x="179.5" y="552.65" font-size="8.8" text-anchor="middle" fill="#000" stroke="#000" stroke-width="0.12">16</text>
<text x="215" y="552.65" font-size="8.8" text-anchor="middle" fill="#000" stroke="#000" stroke-width="0.12">20</text>
<text x="251.25" y="552.65" font-size="8.8" text-anchor="middle" fill="#000" stroke="#000" stroke-width="0.12">24</text>
<text x="286.75" y="552.65" font-size="8.8" text-anchor="middle" fill="#000" stroke="#000" stroke-width="0.12">28</text>
<text x="322.5" y="552.65" font-size="8.8" text-anchor="middle" fill="#000" stroke="#000" stroke-width="0.12">32</text>
<text x="358" y="552.65" font-size="8.8" text-anchor="middle" fill="#000" stroke="#000" stroke-width="0.12">36</text>
<text x="393.75" y="552.65" font-size="8.8" text-anchor="middle" fill="#000" stroke="#000" stroke-width="0.12">40</text>
<text x="429" y="552.65" font-size="8.8" text-anchor="middle" fill="#000" stroke="#000" stroke-width="0.12">44</text>
<text x="464" y="552.65" font-size="8.8" text-anchor="middle" fill="#000" stroke="#000" stroke-width="0.12">48</text>
<text x="282" y="563.90" font-size="8.8" text-anchor="middle" fill="#000" textLength="56" lengthAdjust="spacingAndGlyphs" stroke="#000" stroke-width="0.12">Time (minutes)</text>
<text transform="translate(24.7,464.2) rotate(-90)" x="0" y="3.15" font-size="8.8" text-anchor="middle" fill="#000" textLength="74.4" lengthAdjust="spacingAndGlyphs" stroke="#000" stroke-width="0.12">Intensity (cps ×10<tspan font-size="60%" dy="-3">4</tspan><tspan dy="3">)</tspan></text>
<text x="283.25" y="393.15" font-size="8.8" text-anchor="middle" fill="#000" stroke="#000" stroke-width="0.12">27.5</text>
<text x="240.25" y="435.15" font-size="8.8" text-anchor="middle" fill="#000" textLength="42" lengthAdjust="spacingAndGlyphs" stroke="#000" stroke-width="0.12">766 <tspan font-family="DejaVu Sans" font-size="9">→</tspan> 319</text>
<text x="240.25" y="476.90" font-size="8.8" text-anchor="middle" fill="#000" textLength="42" lengthAdjust="spacingAndGlyphs" stroke="#000" stroke-width="0.12">766 <tspan font-family="DejaVu Sans" font-size="9">→</tspan> 115</text>
<line x1="264.5" y1="428.75" x2="278.25" y2="405" stroke="#222" stroke-width="0.9" stroke-linecap="butt"/>
<line x1="263.75" y1="475" x2="283" y2="487.5" stroke="#222" stroke-width="0.9" stroke-linecap="butt"/>
<path d="M283.4,500 L283.7,470 L284.2,440 L284.9,397 L285.6,440 L286.2,470 L286.8,500 Z" fill="#000" stroke="#000" stroke-width="0.7" stroke-linejoin="round"/>
<path d="M282.8,542.5 L283,500 L283.4,484 L284.2,480.5 L285.2,479.5 L286.2,480.5 L286.9,484 L287.3,500 L287.6,530 L288.3,536 L289.5,540 L290,542.5 Z" fill="#000" stroke="#000" stroke-width="0.6" stroke-linejoin="round"/>
<path d="M279.3,542 L279.8,536 L280.4,529 L281.4,526.3 L282.6,526 L283.2,527" fill="none" stroke="#000" stroke-width="1.0" stroke-linejoin="round"/>
<path d="M280.3,542.5 L280.8,535 L282,532.5 L283.2,532 L283.2,542.5 Z" fill="#000" stroke="#000" stroke-width="0.5" stroke-linejoin="round"/>
<line x1="73.5" y1="413" x2="73.5" y2="516.125" stroke="#000" stroke-width="1.25" stroke-linecap="butt"/>
<line x1="72.875" y1="515.5" x2="229.25" y2="515.5" stroke="#000" stroke-width="1.25" stroke-linecap="butt"/>
<line x1="89.8" y1="515.5" x2="89.8" y2="514.31" stroke="#222" stroke-width="0.7" stroke-linecap="butt"/>
<line x1="91.7" y1="515.5" x2="91.7" y2="514.38" stroke="#222" stroke-width="0.7" stroke-linecap="butt"/>
<line x1="116.7" y1="515.5" x2="116.7" y2="514.15" stroke="#222" stroke-width="0.7" stroke-linecap="butt"/>
<line x1="121.1" y1="515.5" x2="121.1" y2="514.23" stroke="#222" stroke-width="0.7" stroke-linecap="butt"/>
<line x1="122.6" y1="515.5" x2="122.6" y2="513.93" stroke="#222" stroke-width="0.7" stroke-linecap="butt"/>
<line x1="128.0" y1="515.5" x2="128.0" y2="514.38" stroke="#222" stroke-width="0.7" stroke-linecap="butt"/>
<line x1="141.5" y1="515.5" x2="141.5" y2="514.36" stroke="#222" stroke-width="0.7" stroke-linecap="butt"/>
<line x1="145.4" y1="515.5" x2="145.4" y2="514.25" stroke="#222" stroke-width="0.7" stroke-linecap="butt"/>
<line x1="149.3" y1="515.5" x2="149.3" y2="514.17" stroke="#222" stroke-width="0.7" stroke-linecap="butt"/>
<line x1="161.5" y1="515.5" x2="161.5" y2="514.07" stroke="#222" stroke-width="0.7" stroke-linecap="butt"/>
<line x1="177.7" y1="515.5" x2="177.7" y2="514.2" stroke="#222" stroke-width="0.7" stroke-linecap="butt"/>
<line x1="182.4" y1="515.5" x2="182.4" y2="514.0" stroke="#222" stroke-width="0.7" stroke-linecap="butt"/>
<line x1="184.2" y1="515.5" x2="184.2" y2="514.2" stroke="#222" stroke-width="0.7" stroke-linecap="butt"/>
<line x1="189.9" y1="515.5" x2="189.9" y2="514.29" stroke="#222" stroke-width="0.7" stroke-linecap="butt"/>
<line x1="192.6" y1="515.5" x2="192.6" y2="514.17" stroke="#222" stroke-width="0.7" stroke-linecap="butt"/>
<line x1="197.2" y1="515.5" x2="197.2" y2="514.38" stroke="#222" stroke-width="0.7" stroke-linecap="butt"/>
<line x1="200.6" y1="515.5" x2="200.6" y2="514.39" stroke="#222" stroke-width="0.7" stroke-linecap="butt"/>
<line x1="203.8" y1="515.5" x2="203.8" y2="514.33" stroke="#222" stroke-width="0.7" stroke-linecap="butt"/>
<line x1="78.5" y1="515.5" x2="78.5" y2="514.33" stroke="#111" stroke-width="0.8" stroke-linecap="butt"/>
<line x1="80.9" y1="515.5" x2="80.9" y2="513.29" stroke="#111" stroke-width="0.8" stroke-linecap="butt"/>
<line x1="82.4" y1="515.5" x2="82.4" y2="514.17" stroke="#111" stroke-width="0.8" stroke-linecap="butt"/>
<line x1="83.9" y1="515.5" x2="83.9" y2="514.24" stroke="#111" stroke-width="0.8" stroke-linecap="butt"/>
<line x1="85.3" y1="515.5" x2="85.3" y2="513.84" stroke="#111" stroke-width="0.8" stroke-linecap="butt"/>
<line x1="87.2" y1="515.5" x2="87.2" y2="514.19" stroke="#111" stroke-width="0.8" stroke-linecap="butt"/>
<line x1="89.6" y1="515.5" x2="89.6" y2="513.45" stroke="#111" stroke-width="0.8" stroke-linecap="butt"/>
<line x1="91.3" y1="515.5" x2="91.3" y2="513.03" stroke="#111" stroke-width="0.8" stroke-linecap="butt"/>
<line x1="93.2" y1="515.5" x2="93.2" y2="514.36" stroke="#111" stroke-width="0.8" stroke-linecap="butt"/>
<line x1="95.4" y1="515.5" x2="95.4" y2="514.08" stroke="#111" stroke-width="0.8" stroke-linecap="butt"/>
<line x1="96.8" y1="515.5" x2="96.8" y2="514.49" stroke="#111" stroke-width="0.8" stroke-linecap="butt"/>
<line x1="99.0" y1="515.5" x2="99.0" y2="514.52" stroke="#111" stroke-width="0.8" stroke-linecap="butt"/>
<line x1="76.5" y1="515.5" x2="76.5" y2="512.5" stroke="#000" stroke-width="1.25" stroke-linecap="butt"/>
<line x1="93.5" y1="515.5" x2="93.5" y2="512" stroke="#000" stroke-width="1.25" stroke-linecap="butt"/>
<line x1="105.5" y1="515.5" x2="105.5" y2="497" stroke="#000" stroke-width="1.5" stroke-linecap="butt"/>
<line x1="110.5" y1="515.5" x2="110.5" y2="508.75" stroke="#000" stroke-width="1.5" stroke-linecap="butt"/>
<line x1="114.5" y1="515.5" x2="114.5" y2="502.5" stroke="#000" stroke-width="1.5" stroke-linecap="butt"/>
<line x1="118.5" y1="515.5" x2="118.5" y2="485" stroke="#000" stroke-width="1.25" stroke-linecap="butt"/>
<line x1="144.5" y1="515.5" x2="144.5" y2="500" stroke="#000" stroke-width="1.25" stroke-linecap="butt"/>
<line x1="148.5" y1="515.5" x2="148.5" y2="427" stroke="#000" stroke-width="1.25" stroke-linecap="butt"/>
<line x1="195.5" y1="515.5" x2="195.5" y2="512" stroke="#000" stroke-width="1.25" stroke-linecap="butt"/>
<line x1="198.5" y1="515.5" x2="198.5" y2="508.75" stroke="#000" stroke-width="1.25" stroke-linecap="butt"/>
<line x1="210.5" y1="515.5" x2="210.5" y2="412.5" stroke="#000" stroke-width="1.25" stroke-linecap="butt"/>
<text x="79.25" y="509.18" font-size="6.8" text-anchor="middle" fill="#000" stroke="#000" stroke-width="0.12">115</text>
<text x="95" y="508.68" font-size="6.8" text-anchor="middle" fill="#000" stroke="#000" stroke-width="0.12">203</text>
<text x="106.25" y="493.18" font-size="6.8" text-anchor="middle" fill="#000" stroke="#000" stroke-width="0.12">257</text>
<text x="111.75" y="501.18" font-size="6.8" text-anchor="middle" fill="#000" stroke="#000" stroke-width="0.12">301</text>
<text x="118.75" y="481.18" font-size="6.8" text-anchor="middle" fill="#000" stroke="#000" stroke-width="0.12">319</text>
<text x="140.5" y="496.18" font-size="6.8" text-anchor="middle" fill="#000" stroke="#000" stroke-width="0.12">446</text>
<text x="146.5" y="422.43" font-size="6.8" text-anchor="middle" fill="#000" stroke="#000" stroke-width="0.12">464</text>
<text x="211.25" y="408.18" font-size="6.8" text-anchor="middle" fill="#000" stroke="#000" stroke-width="0.12">766.6</text>
<text transform="translate(68.2,430) rotate(-90)" x="0" y="2.26" font-size="6.3" text-anchor="middle" fill="#000" stroke="#000" stroke-width="0.12">8</text>
<text transform="translate(68.2,452) rotate(-90)" x="0" y="2.26" font-size="6.3" text-anchor="middle" fill="#000" stroke="#000" stroke-width="0.12">6</text>
<text x="67.7" y="476.26" font-size="6.3" text-anchor="middle" fill="#000" stroke="#000" stroke-width="0.12">4</text>
<text x="67.7" y="498.26" font-size="6.3" text-anchor="middle" fill="#000" stroke="#000" stroke-width="0.12">2</text>
<text transform="translate(61,461) rotate(-90)" x="0" y="2.26" font-size="6.3" text-anchor="middle" fill="#000" textLength="58" lengthAdjust="spacingAndGlyphs" stroke="#000" stroke-width="0.12">Intensity (cps ×10<tspan font-size="60%" dy="-2">5</tspan><tspan dy="2">)</tspan></text>
<text x="148.25" y="395.97" font-size="6.2" text-anchor="middle" fill="#222" textLength="112.5" lengthAdjust="spacingAndGlyphs" stroke="#000" stroke-width="0.12">Product Ion spectrum of Neutrophil Extract</text>
<text x="95.5" y="521.76" font-size="6.3" text-anchor="middle" fill="#000" stroke="#000" stroke-width="0.12">200</text>
<text x="136.75" y="521.76" font-size="6.3" text-anchor="middle" fill="#000" stroke="#000" stroke-width="0.12">400</text>
<text x="178" y="521.76" font-size="6.3" text-anchor="middle" fill="#000" stroke="#000" stroke-width="0.12">600</text>
<text x="219.25" y="521.76" font-size="6.3" text-anchor="middle" fill="#000" stroke="#000" stroke-width="0.12">800</text>
<text x="162" y="530.26" font-size="6.3" text-anchor="middle" fill="#000" stroke="#000" stroke-width="0.12">m/z (amu)</text>
<line x1="334.5" y1="402" x2="334.5" y2="512.125" stroke="#000" stroke-width="1.25" stroke-linecap="butt"/>
<line x1="333.875" y1="511.5" x2="498" y2="511.5" stroke="#000" stroke-width="1.25" stroke-linecap="butt"/>
<line x1="342.5" y1="511.5" x2="342.5" y2="510.06" stroke="#222" stroke-width="0.7" stroke-linecap="butt"/>
<line x1="350.9" y1="511.5" x2="350.9" y2="510.29" stroke="#222" stroke-width="0.7" stroke-linecap="butt"/>
<line x1="359.8" y1="511.5" x2="359.8" y2="510.05" stroke="#222" stroke-width="0.7" stroke-linecap="butt"/>
<line x1="378.2" y1="511.5" x2="378.2" y2="510.36" stroke="#222" stroke-width="0.7" stroke-linecap="butt"/>
<line x1="380.2" y1="511.5" x2="380.2" y2="509.84" stroke="#222" stroke-width="0.7" stroke-linecap="butt"/>
<line x1="386.6" y1="511.5" x2="386.6" y2="510.18" stroke="#222" stroke-width="0.7" stroke-linecap="butt"/>
<line x1="394.5" y1="511.5" x2="394.5" y2="509.74" stroke="#222" stroke-width="0.7" stroke-linecap="butt"/>
<line x1="397.1" y1="511.5" x2="397.1" y2="510.01" stroke="#222" stroke-width="0.7" stroke-linecap="butt"/>
<line x1="398.7" y1="511.5" x2="398.7" y2="509.98" stroke="#222" stroke-width="0.7" stroke-linecap="butt"/>
<line x1="411.4" y1="511.5" x2="411.4" y2="510.33" stroke="#222" stroke-width="0.7" stroke-linecap="butt"/>
<line x1="413.0" y1="511.5" x2="413.0" y2="509.72" stroke="#222" stroke-width="0.7" stroke-linecap="butt"/>
<line x1="420.1" y1="511.5" x2="420.1" y2="509.71" stroke="#222" stroke-width="0.7" stroke-linecap="butt"/>
<line x1="426.8" y1="511.5" x2="426.8" y2="510.23" stroke="#222" stroke-width="0.7" stroke-linecap="butt"/>
<line x1="437.7" y1="511.5" x2="437.7" y2="510.11" stroke="#222" stroke-width="0.7" stroke-linecap="butt"/>
<line x1="440.8" y1="511.5" x2="440.8" y2="510.25" stroke="#222" stroke-width="0.7" stroke-linecap="butt"/>
<line x1="448.1" y1="511.5" x2="448.1" y2="509.82" stroke="#222" stroke-width="0.7" stroke-linecap="butt"/>
<line x1="451.5" y1="511.5" x2="451.5" y2="510.12" stroke="#222" stroke-width="0.7" stroke-linecap="butt"/>
<line x1="453.8" y1="511.5" x2="453.8" y2="509.81" stroke="#222" stroke-width="0.7" stroke-linecap="butt"/>
<line x1="464.3" y1="511.5" x2="464.3" y2="509.61" stroke="#222" stroke-width="0.7" stroke-linecap="butt"/>
<line x1="467.8" y1="511.5" x2="467.8" y2="510.3" stroke="#222" stroke-width="0.7" stroke-linecap="butt"/>
<line x1="479.8" y1="511.5" x2="479.8" y2="509.87" stroke="#222" stroke-width="0.7" stroke-linecap="butt"/>
<line x1="488.1" y1="511.5" x2="488.1" y2="510.31" stroke="#222" stroke-width="0.7" stroke-linecap="butt"/>
<line x1="339.5" y1="511.5" x2="339.5" y2="507.89" stroke="#111" stroke-width="0.8" stroke-linecap="butt"/>
<line x1="341.0" y1="511.5" x2="341.0" y2="509.79" stroke="#111" stroke-width="0.8" stroke-linecap="butt"/>
<line x1="342.8" y1="511.5" x2="342.8" y2="508.54" stroke="#111" stroke-width="0.8" stroke-linecap="butt"/>
<line x1="344.0" y1="511.5" x2="344.0" y2="509.94" stroke="#111" stroke-width="0.8" stroke-linecap="butt"/>
<line x1="346.4" y1="511.5" x2="346.4" y2="510.57" stroke="#111" stroke-width="0.8" stroke-linecap="butt"/>
<line x1="347.8" y1="511.5" x2="347.8" y2="509.34" stroke="#111" stroke-width="0.8" stroke-linecap="butt"/>
<line x1="349.1" y1="511.5" x2="349.1" y2="509.72" stroke="#111" stroke-width="0.8" stroke-linecap="butt"/>
<line x1="351.7" y1="511.5" x2="351.7" y2="509.81" stroke="#111" stroke-width="0.8" stroke-linecap="butt"/>
<line x1="354.1" y1="511.5" x2="354.1" y2="510.59" stroke="#111" stroke-width="0.8" stroke-linecap="butt"/>
<line x1="356.1" y1="511.5" x2="356.1" y2="510.21" stroke="#111" stroke-width="0.8" stroke-linecap="butt"/>
<line x1="358.7" y1="511.5" x2="358.7" y2="510.23" stroke="#111" stroke-width="0.8" stroke-linecap="butt"/>
<line x1="360.2" y1="511.5" x2="360.2" y2="510.59" stroke="#111" stroke-width="0.8" stroke-linecap="butt"/>
<line x1="356.5" y1="511.5" x2="356.5" y2="505" stroke="#000" stroke-width="1.25" stroke-linecap="butt"/>
<line x1="368.5" y1="511.5" x2="368.5" y2="482.5" stroke="#000" stroke-width="1.25" stroke-linecap="butt"/>
<line x1="377.5" y1="511.5" x2="377.5" y2="499.5" stroke="#000" stroke-width="1.5" stroke-linecap="butt"/>
<line x1="381.5" y1="511.5" x2="381.5" y2="480" stroke="#000" stroke-width="1.25" stroke-linecap="butt"/>
<line x1="408.5" y1="511.5" x2="408.5" y2="500.75" stroke="#000" stroke-width="1.25" stroke-linecap="butt"/>
<line x1="412.5" y1="511.5" x2="412.5" y2="447.5" stroke="#000" stroke-width="1.25" stroke-linecap="butt"/>
<line x1="416.5" y1="511.5" x2="416.5" y2="507" stroke="#000" stroke-width="1.25" stroke-linecap="butt"/>
<line x1="477.5" y1="511.5" x2="477.5" y2="401.5" stroke="#000" stroke-width="1.25" stroke-linecap="butt"/>
<line x1="338.5" y1="511.5" x2="338.5" y2="508.5" stroke="#000" stroke-width="1.25" stroke-linecap="butt"/>
<text x="343" y="504.93" font-size="6.8" text-anchor="middle" fill="#000" stroke="#000" stroke-width="0.12">115</text>
<text x="356.75" y="501.93" font-size="6.8" text-anchor="middle" fill="#000" stroke="#000" stroke-width="0.12">203</text>
<text x="368" y="478.68" font-size="6.8" text-anchor="middle" fill="#000" stroke="#000" stroke-width="0.12">257</text>
<text x="374.5" y="496.18" font-size="6.8" text-anchor="middle" fill="#000" stroke="#000" stroke-width="0.12">301</text>
<text x="381.75" y="476.18" font-size="6.8" text-anchor="middle" fill="#000" stroke="#000" stroke-width="0.12">319</text>
<text x="405" y="496.93" font-size="6.8" text-anchor="middle" fill="#000" stroke="#000" stroke-width="0.12">446</text>
<text x="412.5" y="443.43" font-size="6.8" text-anchor="middle" fill="#000" stroke="#000" stroke-width="0.12">464</text>
<text x="477.8" y="397.73" font-size="6.8" text-anchor="middle" fill="#000" stroke="#000" stroke-width="0.12">766</text>
<text x="327" y="424.26" font-size="6.3" text-anchor="middle" fill="#000" stroke="#000" stroke-width="0.12">6</text>
<text x="327" y="455.26" font-size="6.3" text-anchor="middle" fill="#000" stroke="#000" stroke-width="0.12">4</text>
<text x="327.5" y="485.76" font-size="6.3" text-anchor="middle" fill="#000" stroke="#000" stroke-width="0.12">2</text>
<text transform="translate(321,449.5) rotate(-90)" x="0" y="2.26" font-size="6.3" text-anchor="middle" fill="#000" textLength="57.5" lengthAdjust="spacingAndGlyphs" stroke="#000" stroke-width="0.12">Intensity (cps ×10<tspan font-size="60%" dy="-2">6</tspan><tspan dy="2">)</tspan></text>
<text x="402.65" y="392.22" font-size="6.2" text-anchor="middle" fill="#222" textLength="89.3" lengthAdjust="spacingAndGlyphs" stroke="#000" stroke-width="0.12">Product Ion spectrum of Standard</text>
<text x="358.75" y="518.51" font-size="6.3" text-anchor="middle" fill="#000" stroke="#000" stroke-width="0.12">200</text>
<text x="400" y="518.51" font-size="6.3" text-anchor="middle" fill="#000" stroke="#000" stroke-width="0.12">400</text>
<text x="441" y="518.51" font-size="6.3" text-anchor="middle" fill="#000" stroke="#000" stroke-width="0.12">600</text>
<text x="482" y="518.51" font-size="6.3" text-anchor="middle" fill="#000" stroke="#000" stroke-width="0.12">800</text>
<text x="407" y="526.51" font-size="6.3" text-anchor="middle" fill="#000" stroke="#000" stroke-width="0.12">m/z (amu)</text>
<line x1="337" y1="395.5" x2="421.25" y2="395.5" stroke="#000" stroke-width="1.2" stroke-linecap="butt"/>
<text x="380" y="402.76" font-size="6.3" text-anchor="middle" fill="#000" stroke="#000" stroke-width="0.12">x 10</text>
</svg>
</body></html>
